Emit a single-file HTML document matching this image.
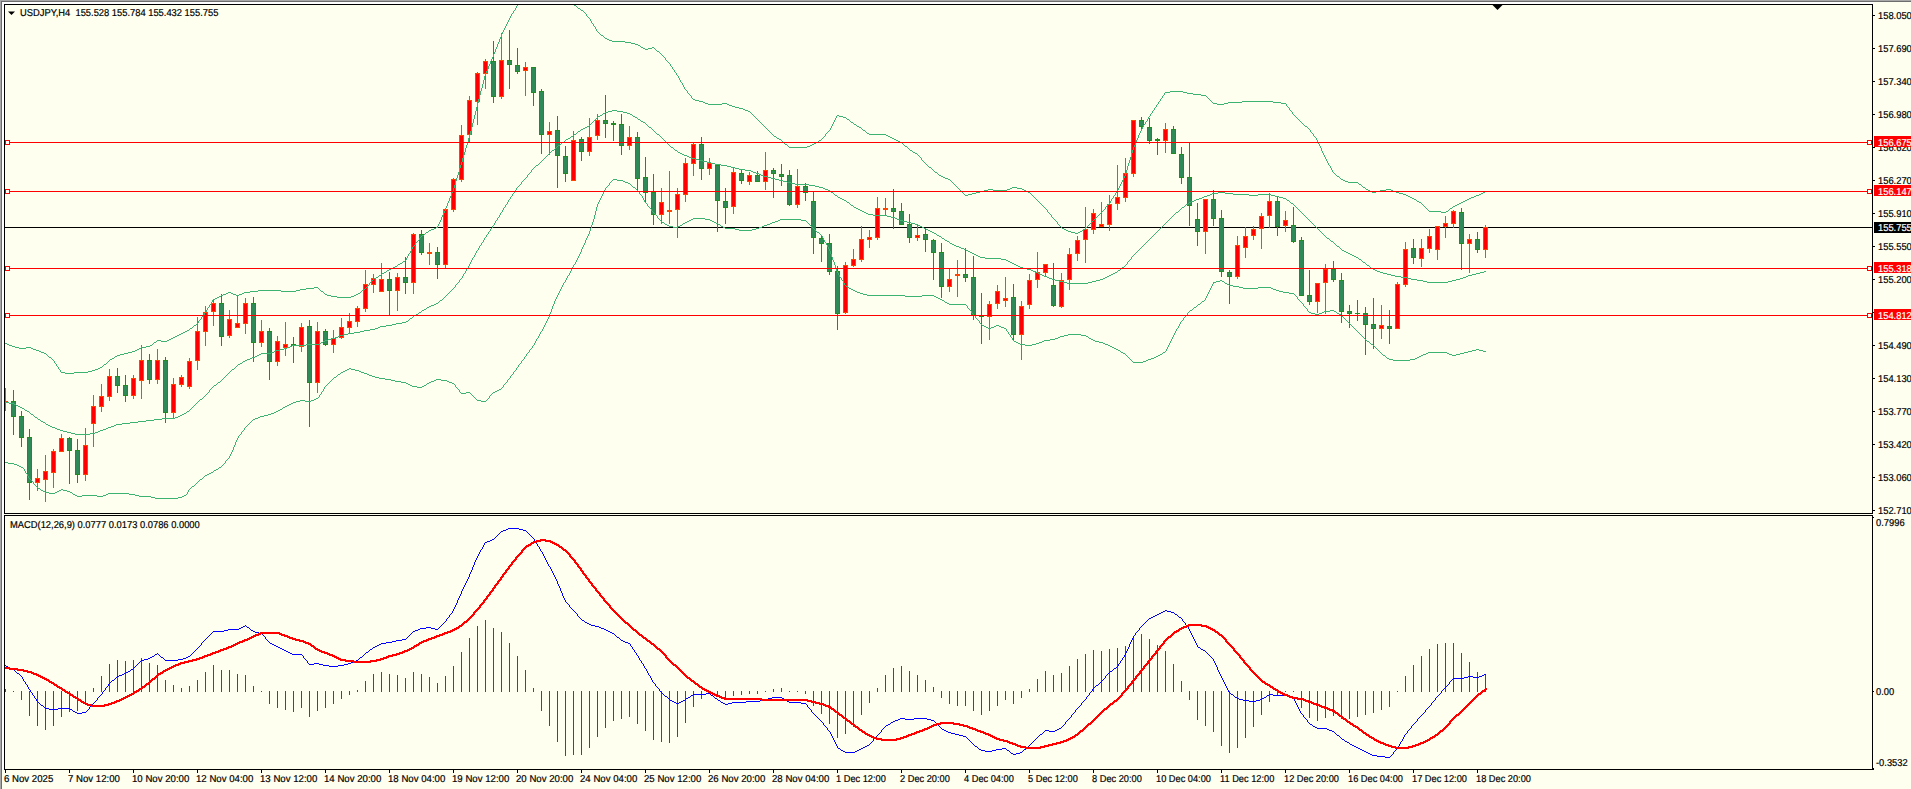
<!DOCTYPE html>
<html lang="en"><head><meta charset="utf-8"><title>USDJPY,H4</title>
<style>
html,body{margin:0;padding:0;background:#fffff0;overflow:hidden}
svg{display:block}
text{font-family:"Liberation Sans",sans-serif;font-size:10px;text-rendering:geometricPrecision;fill:#000;stroke:#000;stroke-width:0.2px;white-space:pre}
.w{fill:#fff;stroke:#fff}
</style></head><body>
<svg width="1911" height="789" viewBox="0 0 1911 789" shape-rendering="crispEdges">
<defs><clipPath id="cm"><rect x="5" y="5" width="1867" height="508"/></clipPath><clipPath id="cs"><rect x="5" y="516" width="1867" height="253"/></clipPath></defs>
<rect x="0" y="0" width="1911" height="789" fill="#fffff0"/>
<g id="frame"><rect x="2" y="2" width="1871" height="2" fill="#ffffff"/><rect x="2" y="2" width="2" height="768" fill="#ffffff"/><rect x="0" y="0" width="1911" height="1" fill="#a8a8a8"/><rect x="0" y="1" width="1911" height="1" fill="#6d6d6d"/><rect x="0" y="0" width="1" height="789" fill="#a8a8a8"/><rect x="1" y="1" width="1" height="788" fill="#6d6d6d"/><rect x="4" y="4" width="1869" height="1" fill="#000"/><rect x="4" y="4" width="1" height="510" fill="#000"/><rect x="4" y="515" width="1" height="255" fill="#000"/><rect x="4" y="513" width="1869" height="1" fill="#000"/><rect x="4" y="515" width="1869" height="1" fill="#000"/><rect x="4" y="769" width="1870" height="1" fill="#000"/><rect x="1872" y="4" width="1" height="510" fill="#000"/><rect x="1872" y="515" width="1" height="255" fill="#000"/></g>
<g id="ticks" fill="#000"><rect x="1873" y="15" width="2" height="1"/><rect x="1873" y="48" width="2" height="1"/><rect x="1873" y="81" width="2" height="1"/><rect x="1873" y="114" width="2" height="1"/><rect x="1873" y="147" width="2" height="1"/><rect x="1873" y="180" width="2" height="1"/><rect x="1873" y="213" width="2" height="1"/><rect x="1873" y="246" width="2" height="1"/><rect x="1873" y="279" width="2" height="1"/><rect x="1873" y="312" width="2" height="1"/><rect x="1873" y="345" width="2" height="1"/><rect x="1873" y="378" width="2" height="1"/><rect x="1873" y="411" width="2" height="1"/><rect x="1873" y="444" width="2" height="1"/><rect x="1873" y="477" width="2" height="1"/><rect x="1873" y="510" width="2" height="1"/><rect x="1873" y="517" width="1" height="1"/><rect x="1873" y="691" width="1" height="1"/><rect x="1873" y="768" width="1" height="1"/><rect x="5" y="770" width="1" height="3"/><rect x="69" y="770" width="1" height="3"/><rect x="133" y="770" width="1" height="3"/><rect x="197" y="770" width="1" height="3"/><rect x="261" y="770" width="1" height="3"/><rect x="325" y="770" width="1" height="3"/><rect x="389" y="770" width="1" height="3"/><rect x="453" y="770" width="1" height="3"/><rect x="517" y="770" width="1" height="3"/><rect x="581" y="770" width="1" height="3"/><rect x="645" y="770" width="1" height="3"/><rect x="709" y="770" width="1" height="3"/><rect x="773" y="770" width="1" height="3"/><rect x="837" y="770" width="1" height="3"/><rect x="901" y="770" width="1" height="3"/><rect x="965" y="770" width="1" height="3"/><rect x="1029" y="770" width="1" height="3"/><rect x="1093" y="770" width="1" height="3"/><rect x="1157" y="770" width="1" height="3"/><rect x="1221" y="770" width="1" height="3"/><rect x="1285" y="770" width="1" height="3"/><rect x="1349" y="770" width="1" height="3"/><rect x="1413" y="770" width="1" height="3"/><rect x="1477" y="770" width="1" height="3"/></g>
<rect x="5" y="227" width="1867" height="1" fill="#000"/>
<g id="candles" clip-path="url(#cm)"><rect x="5" y="388" width="1" height="23" fill="#ff4500"/><rect x="3" y="401" width="5" height="2" fill="#ff4500"/><rect x="13" y="390" width="1" height="45" fill="#228b22"/><rect x="11" y="401" width="5" height="16" fill="#228b22"/><rect x="12" y="402" width="3" height="14" fill="#2e8b57"/><rect x="21" y="411" width="1" height="36" fill="#228b22"/><rect x="19" y="416" width="5" height="22" fill="#228b22"/><rect x="20" y="417" width="3" height="20" fill="#2e8b57"/><rect x="29" y="429" width="1" height="71" fill="#228b22"/><rect x="27" y="437" width="5" height="46" fill="#228b22"/><rect x="28" y="438" width="3" height="44" fill="#2e8b57"/><rect x="37" y="469" width="1" height="22" fill="#ff4500"/><rect x="35" y="478" width="5" height="5" fill="#ff4500"/><rect x="36" y="479" width="3" height="3" fill="#ff0000"/><rect x="45" y="455" width="1" height="47" fill="#ff4500"/><rect x="43" y="471" width="5" height="9" fill="#ff4500"/><rect x="44" y="472" width="3" height="7" fill="#ff0000"/><rect x="53" y="449" width="1" height="39" fill="#ff4500"/><rect x="51" y="451" width="5" height="22" fill="#ff4500"/><rect x="52" y="452" width="3" height="20" fill="#ff0000"/><rect x="61" y="434" width="1" height="18" fill="#ff4500"/><rect x="59" y="438" width="5" height="14" fill="#ff4500"/><rect x="60" y="439" width="3" height="12" fill="#ff0000"/><rect x="69" y="437" width="1" height="47" fill="#228b22"/><rect x="67" y="438" width="5" height="13" fill="#228b22"/><rect x="68" y="439" width="3" height="11" fill="#2e8b57"/><rect x="77" y="439" width="1" height="44" fill="#228b22"/><rect x="75" y="450" width="5" height="25" fill="#228b22"/><rect x="76" y="451" width="3" height="23" fill="#2e8b57"/><rect x="85" y="428" width="1" height="53" fill="#ff4500"/><rect x="83" y="445" width="5" height="30" fill="#ff4500"/><rect x="84" y="446" width="3" height="28" fill="#ff0000"/><rect x="93" y="395" width="1" height="52" fill="#ff4500"/><rect x="91" y="406" width="5" height="18" fill="#ff4500"/><rect x="92" y="407" width="3" height="16" fill="#ff0000"/><rect x="101" y="384" width="1" height="28" fill="#ff4500"/><rect x="99" y="396" width="5" height="11" fill="#ff4500"/><rect x="100" y="397" width="3" height="9" fill="#ff0000"/><rect x="109" y="369" width="1" height="32" fill="#ff4500"/><rect x="107" y="376" width="5" height="21" fill="#ff4500"/><rect x="108" y="377" width="3" height="19" fill="#ff0000"/><rect x="117" y="368" width="1" height="25" fill="#228b22"/><rect x="115" y="376" width="5" height="10" fill="#228b22"/><rect x="116" y="377" width="3" height="8" fill="#2e8b57"/><rect x="125" y="375" width="1" height="27" fill="#228b22"/><rect x="123" y="385" width="5" height="11" fill="#228b22"/><rect x="124" y="386" width="3" height="9" fill="#2e8b57"/><rect x="133" y="375" width="1" height="24" fill="#ff4500"/><rect x="131" y="378" width="5" height="18" fill="#ff4500"/><rect x="132" y="379" width="3" height="16" fill="#ff0000"/><rect x="141" y="345" width="1" height="54" fill="#ff4500"/><rect x="139" y="360" width="5" height="21" fill="#ff4500"/><rect x="140" y="361" width="3" height="19" fill="#ff0000"/><rect x="149" y="354" width="1" height="30" fill="#228b22"/><rect x="147" y="360" width="5" height="20" fill="#228b22"/><rect x="148" y="361" width="3" height="18" fill="#2e8b57"/><rect x="157" y="349" width="1" height="35" fill="#ff4500"/><rect x="155" y="360" width="5" height="20" fill="#ff4500"/><rect x="156" y="361" width="3" height="18" fill="#ff0000"/><rect x="165" y="357" width="1" height="66" fill="#228b22"/><rect x="163" y="360" width="5" height="53" fill="#228b22"/><rect x="164" y="361" width="3" height="51" fill="#2e8b57"/><rect x="173" y="378" width="1" height="41" fill="#ff4500"/><rect x="171" y="384" width="5" height="29" fill="#ff4500"/><rect x="172" y="385" width="3" height="27" fill="#ff0000"/><rect x="181" y="375" width="1" height="12" fill="#ff4500"/><rect x="179" y="377" width="5" height="8" fill="#ff4500"/><rect x="180" y="378" width="3" height="6" fill="#ff0000"/><rect x="189" y="358" width="1" height="31" fill="#ff4500"/><rect x="187" y="361" width="5" height="26" fill="#ff4500"/><rect x="188" y="362" width="3" height="24" fill="#ff0000"/><rect x="197" y="317" width="1" height="53" fill="#ff4500"/><rect x="195" y="331" width="5" height="30" fill="#ff4500"/><rect x="196" y="332" width="3" height="28" fill="#ff0000"/><rect x="205" y="306" width="1" height="40" fill="#ff4500"/><rect x="203" y="312" width="5" height="20" fill="#ff4500"/><rect x="204" y="313" width="3" height="18" fill="#ff0000"/><rect x="213" y="299" width="1" height="27" fill="#ff4500"/><rect x="211" y="303" width="5" height="9" fill="#ff4500"/><rect x="212" y="304" width="3" height="7" fill="#ff0000"/><rect x="221" y="294" width="1" height="52" fill="#228b22"/><rect x="219" y="303" width="5" height="34" fill="#228b22"/><rect x="220" y="304" width="3" height="32" fill="#2e8b57"/><rect x="229" y="310" width="1" height="28" fill="#ff4500"/><rect x="227" y="319" width="5" height="17" fill="#ff4500"/><rect x="228" y="320" width="3" height="15" fill="#ff0000"/><rect x="237" y="296" width="1" height="32" fill="#ff4500"/><rect x="235" y="323" width="5" height="5" fill="#ff4500"/><rect x="236" y="324" width="3" height="3" fill="#ff0000"/><rect x="245" y="298" width="1" height="36" fill="#ff4500"/><rect x="243" y="303" width="5" height="21" fill="#ff4500"/><rect x="244" y="304" width="3" height="19" fill="#ff0000"/><rect x="253" y="297" width="1" height="65" fill="#228b22"/><rect x="251" y="303" width="5" height="40" fill="#228b22"/><rect x="252" y="304" width="3" height="38" fill="#2e8b57"/><rect x="261" y="320" width="1" height="27" fill="#ff4500"/><rect x="259" y="331" width="5" height="12" fill="#ff4500"/><rect x="260" y="332" width="3" height="10" fill="#ff0000"/><rect x="269" y="328" width="1" height="52" fill="#228b22"/><rect x="267" y="331" width="5" height="31" fill="#228b22"/><rect x="268" y="332" width="3" height="29" fill="#2e8b57"/><rect x="277" y="336" width="1" height="30" fill="#ff4500"/><rect x="275" y="341" width="5" height="21" fill="#ff4500"/><rect x="276" y="342" width="3" height="19" fill="#ff0000"/><rect x="285" y="322" width="1" height="34" fill="#ff4500"/><rect x="283" y="344" width="5" height="4" fill="#ff4500"/><rect x="284" y="345" width="3" height="2" fill="#ff0000"/><rect x="293" y="337" width="1" height="26" fill="#228b22"/><rect x="291" y="344" width="5" height="2" fill="#228b22"/><rect x="301" y="323" width="1" height="29" fill="#ff4500"/><rect x="299" y="327" width="5" height="20" fill="#ff4500"/><rect x="300" y="328" width="3" height="18" fill="#ff0000"/><rect x="309" y="320" width="1" height="107" fill="#228b22"/><rect x="307" y="326" width="5" height="57" fill="#228b22"/><rect x="308" y="327" width="3" height="55" fill="#2e8b57"/><rect x="317" y="322" width="1" height="71" fill="#ff4500"/><rect x="315" y="331" width="5" height="52" fill="#ff4500"/><rect x="316" y="332" width="3" height="50" fill="#ff0000"/><rect x="325" y="329" width="1" height="17" fill="#228b22"/><rect x="323" y="331" width="5" height="14" fill="#228b22"/><rect x="324" y="332" width="3" height="12" fill="#2e8b57"/><rect x="333" y="330" width="1" height="23" fill="#ff4500"/><rect x="331" y="338" width="5" height="7" fill="#ff4500"/><rect x="332" y="339" width="3" height="5" fill="#ff0000"/><rect x="341" y="318" width="1" height="21" fill="#ff4500"/><rect x="339" y="327" width="5" height="11" fill="#ff4500"/><rect x="340" y="328" width="3" height="9" fill="#ff0000"/><rect x="349" y="313" width="1" height="20" fill="#ff4500"/><rect x="347" y="321" width="5" height="7" fill="#ff4500"/><rect x="348" y="322" width="3" height="5" fill="#ff0000"/><rect x="357" y="306" width="1" height="21" fill="#ff4500"/><rect x="355" y="308" width="5" height="14" fill="#ff4500"/><rect x="356" y="309" width="3" height="12" fill="#ff0000"/><rect x="365" y="270" width="1" height="42" fill="#ff4500"/><rect x="363" y="284" width="5" height="25" fill="#ff4500"/><rect x="364" y="285" width="3" height="23" fill="#ff0000"/><rect x="373" y="274" width="1" height="19" fill="#ff4500"/><rect x="371" y="278" width="5" height="7" fill="#ff4500"/><rect x="372" y="279" width="3" height="5" fill="#ff0000"/><rect x="381" y="263" width="1" height="29" fill="#ff4500"/><rect x="379" y="279" width="5" height="13" fill="#ff4500"/><rect x="380" y="280" width="3" height="11" fill="#ff0000"/><rect x="389" y="272" width="1" height="43" fill="#228b22"/><rect x="387" y="279" width="5" height="12" fill="#228b22"/><rect x="388" y="280" width="3" height="10" fill="#2e8b57"/><rect x="397" y="273" width="1" height="38" fill="#ff4500"/><rect x="395" y="277" width="5" height="14" fill="#ff4500"/><rect x="396" y="278" width="3" height="12" fill="#ff0000"/><rect x="405" y="257" width="1" height="37" fill="#228b22"/><rect x="403" y="277" width="5" height="6" fill="#228b22"/><rect x="404" y="278" width="3" height="4" fill="#2e8b57"/><rect x="413" y="233" width="1" height="61" fill="#ff4500"/><rect x="411" y="234" width="5" height="49" fill="#ff4500"/><rect x="412" y="235" width="3" height="47" fill="#ff0000"/><rect x="421" y="230" width="1" height="25" fill="#228b22"/><rect x="419" y="234" width="5" height="19" fill="#228b22"/><rect x="420" y="235" width="3" height="17" fill="#2e8b57"/><rect x="429" y="243" width="1" height="22" fill="#ff4500"/><rect x="427" y="252" width="5" height="2" fill="#ff4500"/><rect x="437" y="247" width="1" height="32" fill="#228b22"/><rect x="435" y="252" width="5" height="13" fill="#228b22"/><rect x="436" y="253" width="3" height="11" fill="#2e8b57"/><rect x="445" y="209" width="1" height="59" fill="#ff4500"/><rect x="443" y="209" width="5" height="56" fill="#ff4500"/><rect x="444" y="210" width="3" height="54" fill="#ff0000"/><rect x="453" y="178" width="1" height="34" fill="#ff4500"/><rect x="451" y="179" width="5" height="31" fill="#ff4500"/><rect x="452" y="180" width="3" height="29" fill="#ff0000"/><rect x="461" y="125" width="1" height="57" fill="#ff4500"/><rect x="459" y="135" width="5" height="45" fill="#ff4500"/><rect x="460" y="136" width="3" height="43" fill="#ff0000"/><rect x="469" y="96" width="1" height="46" fill="#ff4500"/><rect x="467" y="100" width="5" height="35" fill="#ff4500"/><rect x="468" y="101" width="3" height="33" fill="#ff0000"/><rect x="477" y="72" width="1" height="53" fill="#ff4500"/><rect x="475" y="73" width="5" height="29" fill="#ff4500"/><rect x="476" y="74" width="3" height="27" fill="#ff0000"/><rect x="485" y="59" width="1" height="30" fill="#ff4500"/><rect x="483" y="61" width="5" height="13" fill="#ff4500"/><rect x="484" y="62" width="3" height="11" fill="#ff0000"/><rect x="493" y="41" width="1" height="62" fill="#228b22"/><rect x="491" y="61" width="5" height="36" fill="#228b22"/><rect x="492" y="62" width="3" height="34" fill="#2e8b57"/><rect x="501" y="33" width="1" height="66" fill="#ff4500"/><rect x="499" y="60" width="5" height="37" fill="#ff4500"/><rect x="500" y="61" width="3" height="35" fill="#ff0000"/><rect x="509" y="30" width="1" height="59" fill="#228b22"/><rect x="507" y="60" width="5" height="5" fill="#228b22"/><rect x="508" y="61" width="3" height="3" fill="#2e8b57"/><rect x="517" y="48" width="1" height="26" fill="#228b22"/><rect x="515" y="65" width="5" height="7" fill="#228b22"/><rect x="516" y="66" width="3" height="5" fill="#2e8b57"/><rect x="525" y="62" width="1" height="34" fill="#ff4500"/><rect x="523" y="67" width="5" height="4" fill="#ff4500"/><rect x="524" y="68" width="3" height="2" fill="#ff0000"/><rect x="533" y="67" width="1" height="39" fill="#228b22"/><rect x="531" y="67" width="5" height="26" fill="#228b22"/><rect x="532" y="68" width="3" height="24" fill="#2e8b57"/><rect x="541" y="89" width="1" height="65" fill="#228b22"/><rect x="539" y="91" width="5" height="44" fill="#228b22"/><rect x="540" y="92" width="3" height="42" fill="#2e8b57"/><rect x="549" y="122" width="1" height="33" fill="#ff4500"/><rect x="547" y="131" width="5" height="4" fill="#ff4500"/><rect x="548" y="132" width="3" height="2" fill="#ff0000"/><rect x="557" y="116" width="1" height="72" fill="#228b22"/><rect x="555" y="130" width="5" height="26" fill="#228b22"/><rect x="556" y="131" width="3" height="24" fill="#2e8b57"/><rect x="565" y="146" width="1" height="36" fill="#228b22"/><rect x="563" y="156" width="5" height="18" fill="#228b22"/><rect x="564" y="157" width="3" height="16" fill="#2e8b57"/><rect x="573" y="131" width="1" height="50" fill="#ff4500"/><rect x="571" y="140" width="5" height="41" fill="#ff4500"/><rect x="572" y="141" width="3" height="39" fill="#ff0000"/><rect x="581" y="137" width="1" height="24" fill="#228b22"/><rect x="579" y="139" width="5" height="13" fill="#228b22"/><rect x="580" y="140" width="3" height="11" fill="#2e8b57"/><rect x="589" y="118" width="1" height="38" fill="#ff4500"/><rect x="587" y="137" width="5" height="15" fill="#ff4500"/><rect x="588" y="138" width="3" height="13" fill="#ff0000"/><rect x="597" y="114" width="1" height="26" fill="#ff4500"/><rect x="595" y="120" width="5" height="16" fill="#ff4500"/><rect x="596" y="121" width="3" height="14" fill="#ff0000"/><rect x="605" y="95" width="1" height="43" fill="#228b22"/><rect x="603" y="120" width="5" height="4" fill="#228b22"/><rect x="604" y="121" width="3" height="2" fill="#2e8b57"/><rect x="613" y="121" width="1" height="20" fill="#228b22"/><rect x="611" y="123" width="5" height="2" fill="#228b22"/><rect x="621" y="114" width="1" height="41" fill="#228b22"/><rect x="619" y="124" width="5" height="22" fill="#228b22"/><rect x="620" y="125" width="3" height="20" fill="#2e8b57"/><rect x="629" y="126" width="1" height="24" fill="#ff4500"/><rect x="627" y="137" width="5" height="9" fill="#ff4500"/><rect x="628" y="138" width="3" height="7" fill="#ff0000"/><rect x="637" y="132" width="1" height="60" fill="#228b22"/><rect x="635" y="137" width="5" height="42" fill="#228b22"/><rect x="636" y="138" width="3" height="40" fill="#2e8b57"/><rect x="645" y="157" width="1" height="46" fill="#228b22"/><rect x="643" y="177" width="5" height="16" fill="#228b22"/><rect x="644" y="178" width="3" height="14" fill="#2e8b57"/><rect x="653" y="174" width="1" height="51" fill="#228b22"/><rect x="651" y="192" width="5" height="23" fill="#228b22"/><rect x="652" y="193" width="3" height="21" fill="#2e8b57"/><rect x="661" y="188" width="1" height="36" fill="#ff4500"/><rect x="659" y="202" width="5" height="13" fill="#ff4500"/><rect x="660" y="203" width="3" height="11" fill="#ff0000"/><rect x="669" y="171" width="1" height="53" fill="#ff4500"/><rect x="667" y="210" width="5" height="2" fill="#ff4500"/><rect x="677" y="188" width="1" height="50" fill="#ff4500"/><rect x="675" y="194" width="5" height="16" fill="#ff4500"/><rect x="676" y="195" width="3" height="14" fill="#ff0000"/><rect x="685" y="158" width="1" height="44" fill="#ff4500"/><rect x="683" y="163" width="5" height="32" fill="#ff4500"/><rect x="684" y="164" width="3" height="30" fill="#ff0000"/><rect x="693" y="142" width="1" height="34" fill="#ff4500"/><rect x="691" y="144" width="5" height="20" fill="#ff4500"/><rect x="692" y="145" width="3" height="18" fill="#ff0000"/><rect x="701" y="137" width="1" height="43" fill="#228b22"/><rect x="699" y="144" width="5" height="25" fill="#228b22"/><rect x="700" y="145" width="3" height="23" fill="#2e8b57"/><rect x="709" y="158" width="1" height="17" fill="#ff4500"/><rect x="707" y="163" width="5" height="6" fill="#ff4500"/><rect x="708" y="164" width="3" height="4" fill="#ff0000"/><rect x="717" y="164" width="1" height="68" fill="#228b22"/><rect x="715" y="165" width="5" height="36" fill="#228b22"/><rect x="716" y="166" width="3" height="34" fill="#2e8b57"/><rect x="725" y="188" width="1" height="36" fill="#228b22"/><rect x="723" y="201" width="5" height="7" fill="#228b22"/><rect x="724" y="202" width="3" height="5" fill="#2e8b57"/><rect x="733" y="168" width="1" height="46" fill="#ff4500"/><rect x="731" y="172" width="5" height="35" fill="#ff4500"/><rect x="732" y="173" width="3" height="33" fill="#ff0000"/><rect x="741" y="169" width="1" height="15" fill="#228b22"/><rect x="739" y="173" width="5" height="8" fill="#228b22"/><rect x="740" y="174" width="3" height="6" fill="#2e8b57"/><rect x="749" y="172" width="1" height="13" fill="#ff4500"/><rect x="747" y="175" width="5" height="7" fill="#ff4500"/><rect x="748" y="176" width="3" height="5" fill="#ff0000"/><rect x="757" y="171" width="1" height="11" fill="#228b22"/><rect x="755" y="175" width="5" height="7" fill="#228b22"/><rect x="756" y="176" width="3" height="5" fill="#2e8b57"/><rect x="765" y="152" width="1" height="38" fill="#ff4500"/><rect x="763" y="170" width="5" height="12" fill="#ff4500"/><rect x="764" y="171" width="3" height="10" fill="#ff0000"/><rect x="773" y="168" width="1" height="30" fill="#228b22"/><rect x="771" y="170" width="5" height="4" fill="#228b22"/><rect x="772" y="171" width="3" height="2" fill="#2e8b57"/><rect x="781" y="164" width="1" height="22" fill="#228b22"/><rect x="779" y="174" width="5" height="3" fill="#228b22"/><rect x="780" y="175" width="3" height="1" fill="#2e8b57"/><rect x="789" y="170" width="1" height="36" fill="#228b22"/><rect x="787" y="175" width="5" height="30" fill="#228b22"/><rect x="788" y="176" width="3" height="28" fill="#2e8b57"/><rect x="797" y="169" width="1" height="39" fill="#ff4500"/><rect x="795" y="186" width="5" height="19" fill="#ff4500"/><rect x="796" y="187" width="3" height="17" fill="#ff0000"/><rect x="805" y="183" width="1" height="18" fill="#228b22"/><rect x="803" y="186" width="5" height="7" fill="#228b22"/><rect x="804" y="187" width="3" height="5" fill="#2e8b57"/><rect x="813" y="192" width="1" height="62" fill="#228b22"/><rect x="811" y="201" width="5" height="37" fill="#228b22"/><rect x="812" y="202" width="3" height="35" fill="#2e8b57"/><rect x="821" y="236" width="1" height="26" fill="#228b22"/><rect x="819" y="238" width="5" height="6" fill="#228b22"/><rect x="820" y="239" width="3" height="4" fill="#2e8b57"/><rect x="829" y="234" width="1" height="41" fill="#228b22"/><rect x="827" y="243" width="5" height="29" fill="#228b22"/><rect x="828" y="244" width="3" height="27" fill="#2e8b57"/><rect x="837" y="266" width="1" height="64" fill="#228b22"/><rect x="835" y="271" width="5" height="43" fill="#228b22"/><rect x="836" y="272" width="3" height="41" fill="#2e8b57"/><rect x="845" y="262" width="1" height="52" fill="#ff4500"/><rect x="843" y="265" width="5" height="48" fill="#ff4500"/><rect x="844" y="266" width="3" height="46" fill="#ff0000"/><rect x="853" y="249" width="1" height="18" fill="#ff4500"/><rect x="851" y="259" width="5" height="7" fill="#ff4500"/><rect x="852" y="260" width="3" height="5" fill="#ff0000"/><rect x="861" y="226" width="1" height="36" fill="#ff4500"/><rect x="859" y="239" width="5" height="21" fill="#ff4500"/><rect x="860" y="240" width="3" height="19" fill="#ff0000"/><rect x="869" y="230" width="1" height="18" fill="#ff4500"/><rect x="867" y="237" width="5" height="3" fill="#ff4500"/><rect x="868" y="238" width="3" height="1" fill="#ff0000"/><rect x="877" y="197" width="1" height="43" fill="#ff4500"/><rect x="875" y="208" width="5" height="30" fill="#ff4500"/><rect x="876" y="209" width="3" height="28" fill="#ff0000"/><rect x="885" y="198" width="1" height="17" fill="#ff4500"/><rect x="883" y="208" width="5" height="2" fill="#ff4500"/><rect x="893" y="189" width="1" height="40" fill="#228b22"/><rect x="891" y="208" width="5" height="4" fill="#228b22"/><rect x="892" y="209" width="3" height="2" fill="#2e8b57"/><rect x="901" y="203" width="1" height="22" fill="#228b22"/><rect x="899" y="211" width="5" height="14" fill="#228b22"/><rect x="900" y="212" width="3" height="12" fill="#2e8b57"/><rect x="909" y="214" width="1" height="29" fill="#228b22"/><rect x="907" y="224" width="5" height="14" fill="#228b22"/><rect x="908" y="225" width="3" height="12" fill="#2e8b57"/><rect x="917" y="225" width="1" height="16" fill="#ff4500"/><rect x="915" y="235" width="5" height="3" fill="#ff4500"/><rect x="916" y="236" width="3" height="1" fill="#ff0000"/><rect x="925" y="228" width="1" height="24" fill="#228b22"/><rect x="923" y="234" width="5" height="6" fill="#228b22"/><rect x="924" y="235" width="3" height="4" fill="#2e8b57"/><rect x="933" y="239" width="1" height="41" fill="#228b22"/><rect x="931" y="240" width="5" height="13" fill="#228b22"/><rect x="932" y="241" width="3" height="11" fill="#2e8b57"/><rect x="941" y="243" width="1" height="55" fill="#228b22"/><rect x="939" y="252" width="5" height="35" fill="#228b22"/><rect x="940" y="253" width="3" height="33" fill="#2e8b57"/><rect x="949" y="269" width="1" height="23" fill="#ff4500"/><rect x="947" y="279" width="5" height="8" fill="#ff4500"/><rect x="948" y="280" width="3" height="6" fill="#ff0000"/><rect x="957" y="260" width="1" height="37" fill="#ff4500"/><rect x="955" y="274" width="5" height="2" fill="#ff4500"/><rect x="965" y="248" width="1" height="34" fill="#228b22"/><rect x="963" y="274" width="5" height="4" fill="#228b22"/><rect x="964" y="275" width="3" height="2" fill="#2e8b57"/><rect x="973" y="256" width="1" height="64" fill="#228b22"/><rect x="971" y="277" width="5" height="38" fill="#228b22"/><rect x="972" y="278" width="3" height="36" fill="#2e8b57"/><rect x="981" y="293" width="1" height="51" fill="#228b22"/><rect x="979" y="316" width="5" height="1" fill="#228b22"/><rect x="989" y="301" width="1" height="39" fill="#ff4500"/><rect x="987" y="304" width="5" height="13" fill="#ff4500"/><rect x="988" y="305" width="3" height="11" fill="#ff0000"/><rect x="997" y="285" width="1" height="24" fill="#ff4500"/><rect x="995" y="291" width="5" height="13" fill="#ff4500"/><rect x="996" y="292" width="3" height="11" fill="#ff0000"/><rect x="1005" y="277" width="1" height="30" fill="#ff4500"/><rect x="1003" y="298" width="5" height="3" fill="#ff4500"/><rect x="1004" y="299" width="3" height="1" fill="#ff0000"/><rect x="1013" y="284" width="1" height="56" fill="#228b22"/><rect x="1011" y="297" width="5" height="38" fill="#228b22"/><rect x="1012" y="298" width="3" height="36" fill="#2e8b57"/><rect x="1021" y="301" width="1" height="59" fill="#ff4500"/><rect x="1019" y="306" width="5" height="29" fill="#ff4500"/><rect x="1020" y="307" width="3" height="27" fill="#ff0000"/><rect x="1029" y="274" width="1" height="35" fill="#ff4500"/><rect x="1027" y="280" width="5" height="25" fill="#ff4500"/><rect x="1028" y="281" width="3" height="23" fill="#ff0000"/><rect x="1037" y="252" width="1" height="36" fill="#ff4500"/><rect x="1035" y="272" width="5" height="8" fill="#ff4500"/><rect x="1036" y="273" width="3" height="6" fill="#ff0000"/><rect x="1045" y="264" width="1" height="12" fill="#ff4500"/><rect x="1043" y="264" width="5" height="9" fill="#ff4500"/><rect x="1044" y="265" width="3" height="7" fill="#ff0000"/><rect x="1053" y="263" width="1" height="44" fill="#228b22"/><rect x="1051" y="285" width="5" height="21" fill="#228b22"/><rect x="1052" y="286" width="3" height="19" fill="#2e8b57"/><rect x="1061" y="273" width="1" height="35" fill="#ff4500"/><rect x="1059" y="280" width="5" height="27" fill="#ff4500"/><rect x="1060" y="281" width="3" height="25" fill="#ff0000"/><rect x="1069" y="248" width="1" height="42" fill="#ff4500"/><rect x="1067" y="254" width="5" height="26" fill="#ff4500"/><rect x="1068" y="255" width="3" height="24" fill="#ff0000"/><rect x="1077" y="236" width="1" height="25" fill="#ff4500"/><rect x="1075" y="240" width="5" height="14" fill="#ff4500"/><rect x="1076" y="241" width="3" height="12" fill="#ff0000"/><rect x="1085" y="207" width="1" height="56" fill="#ff4500"/><rect x="1083" y="229" width="5" height="11" fill="#ff4500"/><rect x="1084" y="230" width="3" height="9" fill="#ff0000"/><rect x="1093" y="209" width="1" height="25" fill="#ff4500"/><rect x="1091" y="213" width="5" height="17" fill="#ff4500"/><rect x="1092" y="214" width="3" height="15" fill="#ff0000"/><rect x="1101" y="202" width="1" height="25" fill="#ff4500"/><rect x="1099" y="224" width="5" height="3" fill="#ff4500"/><rect x="1100" y="225" width="3" height="1" fill="#ff0000"/><rect x="1109" y="195" width="1" height="36" fill="#ff4500"/><rect x="1107" y="204" width="5" height="21" fill="#ff4500"/><rect x="1108" y="205" width="3" height="19" fill="#ff0000"/><rect x="1117" y="165" width="1" height="45" fill="#ff4500"/><rect x="1115" y="197" width="5" height="7" fill="#ff4500"/><rect x="1116" y="198" width="3" height="5" fill="#ff0000"/><rect x="1125" y="158" width="1" height="44" fill="#ff4500"/><rect x="1123" y="173" width="5" height="25" fill="#ff4500"/><rect x="1124" y="174" width="3" height="23" fill="#ff0000"/><rect x="1133" y="120" width="1" height="57" fill="#ff4500"/><rect x="1131" y="120" width="5" height="54" fill="#ff4500"/><rect x="1132" y="121" width="3" height="52" fill="#ff0000"/><rect x="1141" y="117" width="1" height="12" fill="#228b22"/><rect x="1139" y="120" width="5" height="7" fill="#228b22"/><rect x="1140" y="121" width="3" height="5" fill="#2e8b57"/><rect x="1149" y="118" width="1" height="26" fill="#228b22"/><rect x="1147" y="127" width="5" height="14" fill="#228b22"/><rect x="1148" y="128" width="3" height="12" fill="#2e8b57"/><rect x="1157" y="138" width="1" height="17" fill="#228b22"/><rect x="1155" y="139" width="5" height="2" fill="#228b22"/><rect x="1165" y="123" width="1" height="30" fill="#ff4500"/><rect x="1163" y="129" width="5" height="12" fill="#ff4500"/><rect x="1164" y="130" width="3" height="10" fill="#ff0000"/><rect x="1173" y="126" width="1" height="28" fill="#228b22"/><rect x="1171" y="129" width="5" height="25" fill="#228b22"/><rect x="1172" y="130" width="3" height="23" fill="#2e8b57"/><rect x="1181" y="147" width="1" height="37" fill="#228b22"/><rect x="1179" y="154" width="5" height="24" fill="#228b22"/><rect x="1180" y="155" width="3" height="22" fill="#2e8b57"/><rect x="1189" y="143" width="1" height="83" fill="#228b22"/><rect x="1187" y="177" width="5" height="29" fill="#228b22"/><rect x="1188" y="178" width="3" height="27" fill="#2e8b57"/><rect x="1197" y="203" width="1" height="43" fill="#228b22"/><rect x="1195" y="219" width="5" height="13" fill="#228b22"/><rect x="1196" y="220" width="3" height="11" fill="#2e8b57"/><rect x="1205" y="199" width="1" height="55" fill="#ff4500"/><rect x="1203" y="199" width="5" height="33" fill="#ff4500"/><rect x="1204" y="200" width="3" height="31" fill="#ff0000"/><rect x="1213" y="190" width="1" height="36" fill="#228b22"/><rect x="1211" y="199" width="5" height="20" fill="#228b22"/><rect x="1212" y="200" width="3" height="18" fill="#2e8b57"/><rect x="1221" y="210" width="1" height="67" fill="#228b22"/><rect x="1219" y="218" width="5" height="54" fill="#228b22"/><rect x="1220" y="219" width="3" height="52" fill="#2e8b57"/><rect x="1229" y="270" width="1" height="34" fill="#228b22"/><rect x="1227" y="272" width="5" height="5" fill="#228b22"/><rect x="1228" y="273" width="3" height="3" fill="#2e8b57"/><rect x="1237" y="236" width="1" height="43" fill="#ff4500"/><rect x="1235" y="245" width="5" height="32" fill="#ff4500"/><rect x="1236" y="246" width="3" height="30" fill="#ff0000"/><rect x="1245" y="227" width="1" height="31" fill="#ff4500"/><rect x="1243" y="236" width="5" height="12" fill="#ff4500"/><rect x="1244" y="237" width="3" height="10" fill="#ff0000"/><rect x="1253" y="226" width="1" height="14" fill="#ff4500"/><rect x="1251" y="229" width="5" height="7" fill="#ff4500"/><rect x="1252" y="230" width="3" height="5" fill="#ff0000"/><rect x="1261" y="213" width="1" height="36" fill="#ff4500"/><rect x="1259" y="216" width="5" height="13" fill="#ff4500"/><rect x="1260" y="217" width="3" height="11" fill="#ff0000"/><rect x="1269" y="193" width="1" height="35" fill="#ff4500"/><rect x="1267" y="201" width="5" height="15" fill="#ff4500"/><rect x="1268" y="202" width="3" height="13" fill="#ff0000"/><rect x="1277" y="197" width="1" height="39" fill="#228b22"/><rect x="1275" y="201" width="5" height="26" fill="#228b22"/><rect x="1276" y="202" width="3" height="24" fill="#2e8b57"/><rect x="1285" y="211" width="1" height="21" fill="#ff4500"/><rect x="1283" y="220" width="5" height="6" fill="#ff4500"/><rect x="1284" y="221" width="3" height="4" fill="#ff0000"/><rect x="1293" y="207" width="1" height="36" fill="#228b22"/><rect x="1291" y="225" width="5" height="17" fill="#228b22"/><rect x="1292" y="226" width="3" height="15" fill="#2e8b57"/><rect x="1301" y="237" width="1" height="59" fill="#228b22"/><rect x="1299" y="240" width="5" height="56" fill="#228b22"/><rect x="1300" y="241" width="3" height="54" fill="#2e8b57"/><rect x="1309" y="270" width="1" height="35" fill="#228b22"/><rect x="1307" y="295" width="5" height="7" fill="#228b22"/><rect x="1308" y="296" width="3" height="5" fill="#2e8b57"/><rect x="1317" y="283" width="1" height="30" fill="#ff4500"/><rect x="1315" y="283" width="5" height="19" fill="#ff4500"/><rect x="1316" y="284" width="3" height="17" fill="#ff0000"/><rect x="1325" y="264" width="1" height="50" fill="#ff4500"/><rect x="1323" y="269" width="5" height="14" fill="#ff4500"/><rect x="1324" y="270" width="3" height="12" fill="#ff0000"/><rect x="1333" y="261" width="1" height="21" fill="#228b22"/><rect x="1331" y="269" width="5" height="11" fill="#228b22"/><rect x="1332" y="270" width="3" height="9" fill="#2e8b57"/><rect x="1341" y="273" width="1" height="50" fill="#228b22"/><rect x="1339" y="280" width="5" height="32" fill="#228b22"/><rect x="1340" y="281" width="3" height="30" fill="#2e8b57"/><rect x="1349" y="305" width="1" height="23" fill="#228b22"/><rect x="1347" y="311" width="5" height="3" fill="#228b22"/><rect x="1348" y="312" width="3" height="1" fill="#2e8b57"/><rect x="1357" y="300" width="1" height="21" fill="#228b22"/><rect x="1355" y="313" width="5" height="1" fill="#228b22"/><rect x="1365" y="307" width="1" height="48" fill="#228b22"/><rect x="1363" y="313" width="5" height="12" fill="#228b22"/><rect x="1364" y="314" width="3" height="10" fill="#2e8b57"/><rect x="1373" y="298" width="1" height="51" fill="#228b22"/><rect x="1371" y="324" width="5" height="5" fill="#228b22"/><rect x="1372" y="325" width="3" height="3" fill="#2e8b57"/><rect x="1381" y="305" width="1" height="34" fill="#ff4500"/><rect x="1379" y="325" width="5" height="4" fill="#ff4500"/><rect x="1380" y="326" width="3" height="2" fill="#ff0000"/><rect x="1389" y="310" width="1" height="34" fill="#228b22"/><rect x="1387" y="326" width="5" height="3" fill="#228b22"/><rect x="1388" y="327" width="3" height="1" fill="#2e8b57"/><rect x="1397" y="282" width="1" height="47" fill="#ff4500"/><rect x="1395" y="284" width="5" height="45" fill="#ff4500"/><rect x="1396" y="285" width="3" height="43" fill="#ff0000"/><rect x="1405" y="242" width="1" height="45" fill="#ff4500"/><rect x="1403" y="249" width="5" height="36" fill="#ff4500"/><rect x="1404" y="250" width="3" height="34" fill="#ff0000"/><rect x="1413" y="239" width="1" height="25" fill="#228b22"/><rect x="1411" y="248" width="5" height="10" fill="#228b22"/><rect x="1412" y="249" width="3" height="8" fill="#2e8b57"/><rect x="1421" y="239" width="1" height="28" fill="#ff4500"/><rect x="1419" y="248" width="5" height="11" fill="#ff4500"/><rect x="1420" y="249" width="3" height="9" fill="#ff0000"/><rect x="1429" y="229" width="1" height="24" fill="#ff4500"/><rect x="1427" y="236" width="5" height="13" fill="#ff4500"/><rect x="1428" y="237" width="3" height="11" fill="#ff0000"/><rect x="1437" y="226" width="1" height="34" fill="#ff4500"/><rect x="1435" y="226" width="5" height="24" fill="#ff4500"/><rect x="1436" y="227" width="3" height="22" fill="#ff0000"/><rect x="1445" y="216" width="1" height="22" fill="#ff4500"/><rect x="1443" y="223" width="5" height="4" fill="#ff4500"/><rect x="1444" y="224" width="3" height="2" fill="#ff0000"/><rect x="1453" y="210" width="1" height="18" fill="#ff4500"/><rect x="1451" y="211" width="5" height="13" fill="#ff4500"/><rect x="1452" y="212" width="3" height="11" fill="#ff0000"/><rect x="1461" y="208" width="1" height="62" fill="#228b22"/><rect x="1459" y="212" width="5" height="32" fill="#228b22"/><rect x="1460" y="213" width="3" height="30" fill="#2e8b57"/><rect x="1469" y="234" width="1" height="39" fill="#ff4500"/><rect x="1467" y="239" width="5" height="5" fill="#ff4500"/><rect x="1468" y="240" width="3" height="3" fill="#ff0000"/><rect x="1477" y="232" width="1" height="21" fill="#228b22"/><rect x="1475" y="239" width="5" height="11" fill="#228b22"/><rect x="1476" y="240" width="3" height="9" fill="#2e8b57"/><rect x="1485" y="225" width="1" height="33" fill="#ff4500"/><rect x="1483" y="227" width="5" height="23" fill="#ff4500"/><rect x="1484" y="228" width="3" height="21" fill="#ff0000"/></g>
<g id="bands"><path fill="#3cb371" d="M5 343h2v1h-2zM7 344h2v1h-2zM9 345h3v1h-3zM12 346h3v1h-3zM15 347h4v1h-4zM19 348h7v1h-7zM26 347h5v1h-5zM31 348h2v1h-2zM33 349h3v1h-3zM36 350h3v1h-3zM39 351h2v1h-2zM41 352h3v1h-3zM44 353h2v1h-2zM46 354h1v1h-1zM47 355h1v1h-1zM48 356h1v1h-1zM49 357h2v1h-2zM51 358h1v1h-1zM52 359h1v1h-1zM53 360h1v1h-1zM54 361h1v2h-1zM55 363h1v1h-1zM56 364h1v2h-1zM57 366h1v1h-1zM58 367h1v2h-1zM59 369h1v1h-1zM60 370h1v2h-1zM61 372h4v1h-4zM65 373h9v1h-9zM74 372h14v1h-14zM88 371h4v1h-4zM92 370h3v1h-3zM95 369h3v1h-3zM98 368h2v1h-2zM100 367h2v1h-2zM102 366h1v1h-1zM103 365h1v1h-1zM104 364h2v1h-2zM106 363h1v1h-1zM107 362h1v1h-1zM108 361h1v1h-1zM109 360h1v1h-1zM110 359h2v1h-2zM112 358h2v1h-2zM114 357h1v1h-1zM115 356h2v1h-2zM117 355h3v1h-3zM120 354h4v1h-4zM124 353h4v1h-4zM128 352h4v1h-4zM132 351h3v1h-3zM135 350h2v1h-2zM137 349h2v1h-2zM139 348h2v1h-2zM141 347h5v1h-5zM146 346h4v1h-4zM150 345h2v1h-2zM152 344h1v1h-1zM153 343h1v1h-1zM154 342h2v1h-2zM156 341h1v1h-1zM157 340h4v1h-4zM161 341h6v1h-6zM167 340h2v1h-2zM169 339h2v1h-2zM171 338h2v1h-2zM173 337h2v1h-2zM175 336h2v1h-2zM177 335h2v1h-2zM179 334h2v1h-2zM181 333h2v1h-2zM183 332h2v1h-2zM185 331h2v1h-2zM187 330h2v1h-2zM189 329h1v1h-1zM190 328h2v1h-2zM192 327h1v1h-1zM193 326h1v1h-1zM194 325h2v1h-2zM196 324h1v1h-1zM197 323h1v1h-1zM198 321h1v2h-1zM199 320h1v1h-1zM200 319h1v1h-1zM201 317h1v2h-1zM202 316h1v1h-1zM203 315h1v1h-1zM204 313h1v2h-1zM205 312h1v1h-1zM206 310h1v2h-1zM207 308h1v2h-1zM208 307h1v1h-1zM209 305h1v2h-1zM210 304h1v1h-1zM211 302h1v2h-1zM212 300h1v2h-1zM213 299h2v1h-2zM215 298h2v1h-2zM217 297h2v1h-2zM219 296h2v1h-2zM221 295h2v1h-2zM223 294h3v1h-3zM226 293h2v1h-2zM228 292h3v1h-3zM231 293h2v1h-2zM233 294h3v1h-3zM236 295h3v1h-3zM239 294h3v1h-3zM242 293h2v1h-2zM244 292h6v1h-6zM250 291h8v1h-8zM258 290h23v1h-23zM281 291h15v1h-15zM296 290h4v1h-4zM300 289h6v1h-6zM306 288h8v1h-8zM314 287h4v1h-4zM318 288h1v1h-1zM319 289h1v1h-1zM320 290h1v1h-1zM321 291h2v1h-2zM323 292h1v1h-1zM324 293h1v1h-1zM325 294h2v1h-2zM327 295h4v1h-4zM331 296h6v1h-6zM337 297h14v1h-14zM351 296h3v1h-3zM354 295h2v1h-2zM356 294h2v1h-2zM358 293h2v1h-2zM360 292h1v1h-1zM361 291h1v1h-1zM362 290h2v1h-2zM364 289h1v1h-1zM365 288h1v1h-1zM366 287h1v1h-1zM367 286h1v1h-1zM368 285h1v1h-1zM369 283h1v2h-1zM370 282h1v1h-1zM371 281h1v1h-1zM372 280h1v1h-1zM373 279h1v1h-1zM374 278h2v1h-2zM376 277h2v1h-2zM378 276h1v1h-1zM379 275h2v1h-2zM381 274h1v1h-1zM382 273h2v1h-2zM384 272h2v1h-2zM386 271h1v1h-1zM387 270h2v1h-2zM389 269h2v1h-2zM391 268h2v1h-2zM393 267h2v1h-2zM395 266h2v1h-2zM397 265h1v1h-1zM398 264h2v1h-2zM400 263h2v1h-2zM402 262h1v1h-1zM403 261h2v1h-2zM405 260h1v1h-1zM406 258h1v2h-1zM407 256h1v2h-1zM408 254h1v2h-1zM409 253h1v1h-1zM410 251h1v2h-1zM411 249h1v2h-1zM412 247h1v2h-1zM413 246h1v1h-1zM414 245h1v1h-1zM415 243h1v2h-1zM416 242h1v1h-1zM417 241h1v1h-1zM418 240h1v1h-1zM419 238h1v2h-1zM420 237h1v1h-1zM421 236h1v1h-1zM422 235h2v1h-2zM424 234h1v1h-1zM425 233h1v1h-1zM426 232h2v1h-2zM428 231h1v1h-1zM429 230h2v1h-2zM431 229h3v1h-3zM434 228h2v1h-2zM436 227h2v1h-2zM437 226h1v1h-1zM438 224h1v2h-1zM439 222h1v2h-1zM440 220h1v2h-1zM441 217h1v3h-1zM442 215h1v2h-1zM443 213h1v2h-1zM444 211h1v2h-1zM445 208h1v3h-1zM446 206h1v2h-1zM447 203h1v3h-1zM448 201h1v2h-1zM449 198h1v3h-1zM450 196h1v2h-1zM451 193h1v3h-1zM452 191h1v2h-1zM453 188h1v3h-1zM454 185h1v3h-1zM455 181h1v4h-1zM456 178h1v3h-1zM457 175h1v3h-1zM458 172h1v3h-1zM459 168h1v4h-1zM460 165h1v3h-1zM461 162h1v3h-1zM462 158h1v4h-1zM463 155h1v3h-1zM464 152h1v3h-1zM465 148h1v4h-1zM466 145h1v3h-1zM467 142h1v3h-1zM468 138h1v4h-1zM469 135h1v3h-1zM470 131h1v4h-1zM471 127h1v4h-1zM472 123h1v4h-1zM473 119h1v4h-1zM474 115h1v4h-1zM475 111h1v4h-1zM476 107h1v4h-1zM477 103h1v4h-1zM478 99h1v4h-1zM479 95h1v4h-1zM480 91h1v4h-1zM481 88h1v3h-1zM482 84h1v4h-1zM483 80h1v4h-1zM484 76h1v4h-1zM485 73h1v3h-1zM486 71h1v2h-1zM487 69h1v2h-1zM488 66h1v3h-1zM489 64h1v2h-1zM490 61h1v3h-1zM491 59h1v2h-1zM492 57h1v2h-1zM493 54h1v3h-1zM494 52h1v2h-1zM495 49h1v3h-1zM496 47h1v2h-1zM497 44h1v3h-1zM498 42h1v2h-1zM499 39h1v3h-1zM500 37h1v2h-1zM501 34h1v3h-1zM502 32h1v2h-1zM503 30h1v2h-1zM504 28h1v2h-1zM505 26h1v2h-1zM506 24h1v2h-1zM507 22h1v2h-1zM508 20h1v2h-1zM509 18h1v2h-1zM510 16h1v2h-1zM511 14h1v2h-1zM512 13h1v1h-1zM513 11h1v2h-1zM514 10h1v1h-1zM515 8h1v2h-1zM516 6h1v2h-1zM517 5h1v1h-1zM574 5h2v1h-2zM576 6h1v1h-1zM577 7h1v1h-1zM578 8h2v1h-2zM580 9h1v1h-1zM581 10h2v1h-2zM583 11h1v1h-1zM584 12h1v1h-1zM585 13h1v1h-1zM586 14h1v2h-1zM587 16h1v1h-1zM588 17h1v1h-1zM589 18h1v1h-1zM590 19h1v2h-1zM591 21h1v2h-1zM592 23h1v1h-1zM593 24h1v2h-1zM594 26h1v1h-1zM595 27h1v2h-1zM596 29h1v2h-1zM597 31h1v1h-1zM598 32h1v1h-1zM599 33h1v1h-1zM600 34h1v1h-1zM601 35h2v1h-2zM603 36h1v1h-1zM604 37h1v1h-1zM605 38h2v1h-2zM607 39h2v1h-2zM609 40h3v1h-3zM612 41h13v1h-13zM625 42h6v1h-6zM631 43h4v1h-4zM635 44h3v1h-3zM638 45h2v1h-2zM640 46h1v1h-1zM641 47h2v1h-2zM643 48h2v1h-2zM645 49h3v1h-3zM648 48h4v1h-4zM652 47h2v1h-2zM654 48h1v1h-1zM655 49h1v1h-1zM656 50h1v1h-1zM657 51h2v1h-2zM659 52h1v1h-1zM660 53h1v1h-1zM661 54h1v1h-1zM662 55h1v1h-1zM663 56h1v1h-1zM664 57h1v1h-1zM665 58h1v2h-1zM666 60h1v1h-1zM667 61h1v1h-1zM668 62h1v1h-1zM669 63h1v1h-1zM670 64h1v2h-1zM671 66h1v1h-1zM672 67h1v2h-1zM673 69h1v1h-1zM674 70h1v2h-1zM675 72h1v1h-1zM676 73h1v2h-1zM677 75h1v1h-1zM678 76h1v2h-1zM679 78h1v2h-1zM680 80h1v2h-1zM681 82h1v1h-1zM682 83h1v2h-1zM683 85h1v2h-1zM684 87h1v2h-1zM685 89h1v1h-1zM686 90h1v1h-1zM687 91h1v2h-1zM688 93h1v1h-1zM689 94h1v1h-1zM690 95h1v1h-1zM691 96h1v2h-1zM692 98h1v1h-1zM693 99h2v1h-2zM695 100h4v1h-4zM699 101h4v1h-4zM703 102h2v1h-2zM705 103h3v1h-3zM708 104h14v1h-14zM722 103h5v1h-5zM727 104h2v1h-2zM729 105h3v1h-3zM732 106h3v1h-3zM735 107h4v1h-4zM739 108h4v1h-4zM743 109h2v1h-2zM745 110h3v1h-3zM748 111h2v1h-2zM750 112h1v1h-1zM751 113h1v1h-1zM752 114h1v1h-1zM753 115h1v1h-1zM754 116h1v1h-1zM755 117h1v1h-1zM756 118h1v1h-1zM757 119h1v1h-1zM758 120h1v1h-1zM759 121h1v1h-1zM760 122h1v1h-1zM761 123h1v1h-1zM762 124h1v1h-1zM763 125h1v1h-1zM764 126h1v1h-1zM765 127h1v1h-1zM766 128h1v1h-1zM767 129h1v1h-1zM768 130h1v1h-1zM769 131h1v1h-1zM770 132h1v1h-1zM771 133h1v1h-1zM772 134h1v1h-1zM773 135h1v1h-1zM774 136h2v1h-2zM776 137h1v1h-1zM777 138h2v1h-2zM779 139h2v1h-2zM781 140h1v1h-1zM782 141h1v1h-1zM783 142h1v1h-1zM784 143h1v1h-1zM785 144h2v1h-2zM787 145h1v1h-1zM788 146h1v1h-1zM789 147h18v1h-18zM807 146h3v1h-3zM810 145h2v1h-2zM812 144h2v1h-2zM814 143h2v1h-2zM816 142h2v1h-2zM818 141h1v1h-1zM819 140h2v1h-2zM821 139h1v1h-1zM822 138h1v1h-1zM823 137h1v1h-1zM824 136h1v1h-1zM825 134h1v2h-1zM826 133h1v1h-1zM827 132h1v1h-1zM828 131h1v1h-1zM829 130h1v1h-1zM830 128h1v2h-1zM831 126h1v2h-1zM832 124h1v2h-1zM833 122h1v2h-1zM834 120h1v2h-1zM835 118h1v2h-1zM836 116h1v2h-1zM837 115h2v1h-2zM839 116h4v1h-4zM843 117h3v1h-3zM846 118h1v1h-1zM847 119h2v1h-2zM849 120h1v1h-1zM850 121h1v1h-1zM851 122h2v1h-2zM853 123h1v1h-1zM854 124h2v1h-2zM856 125h1v1h-1zM857 126h2v1h-2zM859 127h2v1h-2zM861 128h1v1h-1zM862 129h1v1h-1zM863 130h2v1h-2zM865 131h1v1h-1zM866 132h1v1h-1zM867 133h2v1h-2zM869 134h17v1h-17zM886 135h2v1h-2zM888 136h2v1h-2zM890 137h2v1h-2zM892 138h2v1h-2zM894 139h2v1h-2zM896 140h2v1h-2zM898 141h2v1h-2zM900 142h2v1h-2zM902 143h1v1h-1zM903 144h1v1h-1zM904 145h1v1h-1zM905 146h2v1h-2zM907 147h1v1h-1zM908 148h1v1h-1zM909 149h1v1h-1zM910 150h2v1h-2zM912 151h1v1h-1zM913 152h2v1h-2zM915 153h2v1h-2zM917 154h1v1h-1zM918 155h1v1h-1zM919 156h1v1h-1zM920 157h1v1h-1zM921 158h1v2h-1zM922 160h1v1h-1zM923 161h1v1h-1zM924 162h1v1h-1zM925 163h1v1h-1zM926 164h1v1h-1zM927 165h1v1h-1zM928 166h1v1h-1zM929 167h2v1h-2zM931 168h1v1h-1zM932 169h1v1h-1zM933 170h1v1h-1zM934 171h1v1h-1zM935 172h2v1h-2zM937 173h1v1h-1zM938 174h1v1h-1zM939 175h2v1h-2zM941 176h2v1h-2zM943 177h2v1h-2zM945 178h3v1h-3zM948 179h2v1h-2zM950 180h1v1h-1zM951 181h1v1h-1zM952 182h1v1h-1zM953 183h1v1h-1zM954 184h1v1h-1zM955 185h1v1h-1zM956 186h1v1h-1zM957 187h1v1h-1zM958 188h1v1h-1zM959 189h1v1h-1zM960 190h1v1h-1zM961 191h1v1h-1zM962 192h1v1h-1zM963 193h1v1h-1zM964 194h1v1h-1zM965 195h3v1h-3zM968 194h4v1h-4zM972 193h4v1h-4zM976 192h4v1h-4zM980 191h4v1h-4zM984 190h4v1h-4zM988 189h5v1h-5zM993 190h14v1h-14zM1007 189h3v1h-3zM1010 188h2v1h-2zM1012 187h5v1h-5zM1017 188h5v1h-5zM1022 189h2v1h-2zM1024 190h2v1h-2zM1026 191h2v1h-2zM1028 192h2v1h-2zM1030 193h1v1h-1zM1031 194h1v1h-1zM1032 195h1v1h-1zM1033 196h1v1h-1zM1034 197h1v1h-1zM1035 198h1v1h-1zM1036 199h1v1h-1zM1037 200h1v1h-1zM1038 201h1v1h-1zM1039 202h1v1h-1zM1040 203h1v1h-1zM1041 204h1v1h-1zM1042 205h1v1h-1zM1043 206h1v1h-1zM1044 207h1v1h-1zM1045 208h1v1h-1zM1046 209h1v1h-1zM1047 210h1v2h-1zM1048 212h1v1h-1zM1049 213h1v1h-1zM1050 214h1v1h-1zM1051 215h1v2h-1zM1052 217h1v1h-1zM1053 218h1v1h-1zM1054 219h1v1h-1zM1055 220h1v1h-1zM1056 221h1v1h-1zM1057 222h1v2h-1zM1058 224h1v1h-1zM1059 225h1v1h-1zM1060 226h1v1h-1zM1061 227h1v1h-1zM1062 228h2v1h-2zM1064 229h2v1h-2zM1066 230h2v1h-2zM1068 231h3v1h-3zM1071 232h4v1h-4zM1075 233h3v1h-3zM1078 232h2v1h-2zM1080 231h2v1h-2zM1082 230h1v1h-1zM1083 229h2v1h-2zM1085 228h1v1h-1zM1086 227h1v1h-1zM1087 226h1v1h-1zM1088 225h1v1h-1zM1089 224h1v1h-1zM1090 223h1v1h-1zM1091 222h1v1h-1zM1092 221h1v1h-1zM1093 220h1v1h-1zM1094 219h1v1h-1zM1095 218h1v1h-1zM1096 217h1v1h-1zM1097 216h1v1h-1zM1098 215h1v1h-1zM1099 214h1v1h-1zM1100 213h1v1h-1zM1101 212h1v1h-1zM1102 211h1v1h-1zM1103 210h1v1h-1zM1104 209h1v1h-1zM1105 207h1v2h-1zM1106 206h1v1h-1zM1107 205h1v1h-1zM1108 204h1v1h-1zM1109 203h1v1h-1zM1110 201h1v2h-1zM1111 199h1v2h-1zM1112 198h1v1h-1zM1113 196h1v2h-1zM1114 195h1v1h-1zM1115 193h1v2h-1zM1116 191h1v2h-1zM1117 190h1v1h-1zM1118 188h1v2h-1zM1119 186h1v2h-1zM1120 184h1v2h-1zM1121 182h1v2h-1zM1122 180h1v2h-1zM1123 178h1v2h-1zM1124 176h1v2h-1zM1125 173h1v3h-1zM1126 170h1v3h-1zM1127 166h1v4h-1zM1128 163h1v3h-1zM1129 160h1v3h-1zM1130 157h1v3h-1zM1131 153h1v4h-1zM1132 150h1v3h-1zM1133 147h1v3h-1zM1134 145h1v2h-1zM1135 143h1v2h-1zM1136 140h1v3h-1zM1137 138h1v2h-1zM1138 135h1v3h-1zM1139 133h1v2h-1zM1140 131h1v2h-1zM1141 129h1v2h-1zM1142 127h1v2h-1zM1143 125h1v2h-1zM1144 124h1v1h-1zM1145 122h1v2h-1zM1146 121h1v1h-1zM1147 119h1v2h-1zM1148 117h1v2h-1zM1149 116h1v1h-1zM1150 114h1v2h-1zM1151 113h1v1h-1zM1152 111h1v2h-1zM1153 110h1v1h-1zM1154 108h1v2h-1zM1155 107h1v1h-1zM1156 105h1v2h-1zM1157 104h1v1h-1zM1158 102h1v2h-1zM1159 101h1v1h-1zM1160 99h1v2h-1zM1161 98h1v1h-1zM1162 96h1v2h-1zM1163 95h1v1h-1zM1164 93h1v2h-1zM1165 92h5v1h-5zM1170 91h13v1h-13zM1183 92h4v1h-4zM1187 93h6v1h-6zM1193 94h8v1h-8zM1201 95h5v1h-5zM1206 96h1v1h-1zM1207 97h1v1h-1zM1208 98h1v1h-1zM1209 99h1v1h-1zM1210 100h1v1h-1zM1211 101h1v1h-1zM1212 102h1v1h-1zM1213 103h4v1h-4zM1217 104h7v1h-7zM1224 103h4v1h-4zM1228 102h14v1h-14zM1242 101h31v1h-31zM1273 102h8v1h-8zM1281 103h5v1h-5zM1286 104h1v2h-1zM1287 106h1v1h-1zM1288 107h1v1h-1zM1289 108h1v2h-1zM1290 110h1v1h-1zM1291 111h1v1h-1zM1292 112h1v2h-1zM1293 114h1v1h-1zM1294 115h1v1h-1zM1295 116h1v1h-1zM1296 117h1v1h-1zM1297 118h1v1h-1zM1298 119h1v1h-1zM1299 120h1v1h-1zM1300 121h1v1h-1zM1301 122h1v1h-1zM1302 123h1v1h-1zM1303 124h1v1h-1zM1304 125h1v1h-1zM1305 126h2v1h-2zM1307 127h1v1h-1zM1308 128h1v1h-1zM1309 129h1v1h-1zM1310 130h1v2h-1zM1311 132h1v1h-1zM1312 133h1v1h-1zM1313 134h1v2h-1zM1314 136h1v1h-1zM1315 137h1v1h-1zM1316 138h1v2h-1zM1317 140h1v2h-1zM1318 142h1v2h-1zM1319 144h1v2h-1zM1320 146h1v2h-1zM1321 148h1v3h-1zM1322 151h1v2h-1zM1323 153h1v2h-1zM1324 155h1v2h-1zM1325 157h1v2h-1zM1326 159h1v2h-1zM1327 161h1v2h-1zM1328 163h1v2h-1zM1329 165h1v1h-1zM1330 166h1v2h-1zM1331 168h1v2h-1zM1332 170h1v2h-1zM1333 172h1v1h-1zM1334 173h1v1h-1zM1335 174h1v1h-1zM1336 175h1v1h-1zM1337 176h2v1h-2zM1339 177h1v1h-1zM1340 178h1v1h-1zM1341 179h2v1h-2zM1343 180h2v1h-2zM1345 181h3v1h-3zM1348 182h10v1h-10zM1358 183h1v1h-1zM1359 184h2v1h-2zM1361 185h1v1h-1zM1362 186h1v1h-1zM1363 187h2v1h-2zM1365 188h1v1h-1zM1366 189h2v1h-2zM1368 190h2v1h-2zM1370 191h2v1h-2zM1372 192h4v1h-4zM1376 191h4v1h-4zM1380 190h6v1h-6zM1386 189h5v1h-5zM1391 190h2v1h-2zM1393 191h3v1h-3zM1396 192h3v1h-3zM1399 193h4v1h-4zM1403 194h3v1h-3zM1406 195h2v1h-2zM1408 196h2v1h-2zM1410 197h2v1h-2zM1412 198h2v1h-2zM1414 199h2v1h-2zM1416 200h1v1h-1zM1417 201h2v1h-2zM1419 202h2v1h-2zM1421 203h1v1h-1zM1422 204h1v1h-1zM1423 205h1v1h-1zM1424 206h1v1h-1zM1425 207h1v1h-1zM1426 208h1v1h-1zM1427 209h1v1h-1zM1428 210h1v1h-1zM1429 211h12v1h-12zM1441 212h5v1h-5zM1446 211h2v1h-2zM1448 210h1v1h-1zM1449 209h1v1h-1zM1450 208h2v1h-2zM1452 207h1v1h-1zM1453 206h2v1h-2zM1455 205h2v1h-2zM1457 204h2v1h-2zM1459 203h2v1h-2zM1461 202h2v1h-2zM1463 201h2v1h-2zM1465 200h2v1h-2zM1467 199h2v1h-2zM1469 198h2v1h-2zM1471 197h3v1h-3zM1474 196h2v1h-2zM1476 195h3v1h-3zM1479 194h2v1h-2zM1481 193h2v1h-2zM1483 192h2v1h-2zM1485 191h1v1h-1z"/><path fill="#3cb371" d="M5 402h4v1h-4zM9 403h5v1h-5zM14 404h2v1h-2zM16 405h2v1h-2zM18 406h2v1h-2zM20 407h2v1h-2zM22 408h2v1h-2zM24 409h1v1h-1zM25 410h2v1h-2zM27 411h2v1h-2zM29 412h1v1h-1zM30 413h1v1h-1zM31 414h2v1h-2zM33 415h1v1h-1zM34 416h1v1h-1zM35 417h2v1h-2zM37 418h1v1h-1zM38 419h2v1h-2zM40 420h1v1h-1zM41 421h2v1h-2zM43 422h2v1h-2zM45 423h1v1h-1zM46 424h2v1h-2zM48 425h2v1h-2zM50 426h2v1h-2zM52 427h3v1h-3zM55 428h2v1h-2zM57 429h3v1h-3zM60 430h3v1h-3zM63 431h4v1h-4zM67 432h4v1h-4zM71 433h4v1h-4zM75 434h15v1h-15zM90 433h5v1h-5zM95 432h3v1h-3zM98 431h2v1h-2zM100 430h3v1h-3zM103 429h3v1h-3zM106 428h2v1h-2zM108 427h3v1h-3zM111 426h3v1h-3zM114 425h2v1h-2zM116 424h6v1h-6zM122 423h8v1h-8zM130 422h8v1h-8zM138 421h8v1h-8zM146 420h8v1h-8zM154 419h8v1h-8zM162 418h13v1h-13zM175 417h3v1h-3zM178 416h2v1h-2zM180 415h2v1h-2zM182 414h2v1h-2zM184 413h2v1h-2zM186 412h1v1h-1zM187 411h2v1h-2zM189 410h1v1h-1zM190 409h1v1h-1zM191 408h1v1h-1zM192 407h1v1h-1zM193 406h1v1h-1zM194 405h1v1h-1zM195 404h1v1h-1zM196 403h1v1h-1zM197 402h1v1h-1zM198 401h1v1h-1zM199 400h1v1h-1zM200 399h2v1h-2zM202 398h1v1h-1zM203 397h1v1h-1zM204 396h1v1h-1zM205 395h1v1h-1zM206 394h1v1h-1zM207 393h1v1h-1zM208 392h1v1h-1zM209 390h1v2h-1zM210 389h1v1h-1zM211 388h1v1h-1zM212 387h1v1h-1zM213 386h1v1h-1zM214 385h2v1h-2zM216 384h1v1h-1zM217 383h1v1h-1zM218 382h2v1h-2zM220 381h1v1h-1zM221 380h1v1h-1zM222 379h1v1h-1zM223 378h1v1h-1zM224 377h1v1h-1zM225 376h1v1h-1zM226 375h1v1h-1zM227 374h1v1h-1zM228 373h1v1h-1zM229 372h1v1h-1zM230 371h1v1h-1zM231 370h1v1h-1zM232 369h2v1h-2zM234 368h1v1h-1zM235 367h1v1h-1zM236 366h1v1h-1zM237 365h1v1h-1zM238 364h2v1h-2zM240 363h2v1h-2zM242 362h1v1h-1zM243 361h2v1h-2zM245 360h2v1h-2zM247 359h3v1h-3zM250 358h2v1h-2zM252 357h3v1h-3zM255 356h2v1h-2zM257 355h2v1h-2zM259 354h2v1h-2zM261 353h10v1h-10zM271 352h3v1h-3zM274 351h2v1h-2zM276 350h4v1h-4zM280 349h4v1h-4zM284 348h3v1h-3zM287 347h3v1h-3zM290 346h2v1h-2zM292 345h14v1h-14zM306 344h13v1h-13zM319 343h2v1h-2zM321 342h2v1h-2zM323 341h2v1h-2zM325 340h3v1h-3zM328 339h4v1h-4zM332 338h3v1h-3zM335 337h3v1h-3zM338 336h2v1h-2zM340 335h4v1h-4zM344 334h4v1h-4zM348 333h6v1h-6zM354 332h6v1h-6zM360 331h4v1h-4zM364 330h6v1h-6zM370 329h5v1h-5zM375 328h3v1h-3zM378 327h2v1h-2zM380 326h6v1h-6zM386 325h6v1h-6zM392 324h4v1h-4zM396 323h6v1h-6zM402 322h4v1h-4zM406 321h2v1h-2zM408 320h1v1h-1zM409 319h1v1h-1zM410 318h2v1h-2zM412 317h1v1h-1zM413 316h1v1h-1zM414 315h2v1h-2zM416 314h2v1h-2zM418 313h1v1h-1zM419 312h2v1h-2zM421 311h1v1h-1zM422 310h2v1h-2zM424 309h2v1h-2zM426 308h1v1h-1zM427 307h2v1h-2zM429 306h2v1h-2zM431 305h3v1h-3zM434 304h2v1h-2zM436 303h2v1h-2zM438 302h1v1h-1zM439 301h1v1h-1zM440 300h2v1h-2zM442 299h1v1h-1zM443 298h1v1h-1zM444 297h1v1h-1zM445 296h1v1h-1zM446 295h1v1h-1zM447 294h1v1h-1zM448 293h1v1h-1zM449 292h1v1h-1zM450 291h1v1h-1zM451 290h1v1h-1zM452 289h1v1h-1zM453 288h1v1h-1zM454 287h1v1h-1zM455 285h1v2h-1zM456 284h1v1h-1zM457 283h1v1h-1zM458 282h1v1h-1zM459 280h1v2h-1zM460 279h1v1h-1zM461 278h1v1h-1zM462 276h1v2h-1zM463 274h1v2h-1zM464 273h1v1h-1zM465 271h1v2h-1zM466 269h1v2h-1zM467 268h1v1h-1zM468 266h1v2h-1zM469 264h1v2h-1zM470 262h1v2h-1zM471 260h1v2h-1zM472 258h1v2h-1zM473 257h1v1h-1zM474 255h1v2h-1zM475 253h1v2h-1zM476 251h1v2h-1zM477 250h1v1h-1zM478 248h1v2h-1zM479 246h1v2h-1zM480 245h1v1h-1zM481 243h1v2h-1zM482 242h1v1h-1zM483 240h1v2h-1zM484 238h1v2h-1zM485 237h1v1h-1zM486 235h1v2h-1zM487 234h1v1h-1zM488 232h1v2h-1zM489 231h1v1h-1zM490 229h1v2h-1zM491 228h1v1h-1zM492 226h1v2h-1zM493 225h1v1h-1zM494 223h1v2h-1zM495 221h1v2h-1zM496 220h1v1h-1zM497 218h1v2h-1zM498 217h1v1h-1zM499 215h1v2h-1zM500 213h1v2h-1zM501 212h1v1h-1zM502 210h1v2h-1zM503 208h1v2h-1zM504 207h1v1h-1zM505 205h1v2h-1zM506 204h1v1h-1zM507 202h1v2h-1zM508 200h1v2h-1zM509 199h1v1h-1zM510 197h1v2h-1zM511 196h1v1h-1zM512 194h1v2h-1zM513 193h1v1h-1zM514 191h1v2h-1zM515 190h1v1h-1zM516 188h1v2h-1zM517 187h1v1h-1zM518 186h1v1h-1zM519 185h1v1h-1zM520 184h1v1h-1zM521 182h1v2h-1zM522 181h1v1h-1zM523 180h1v1h-1zM524 179h1v1h-1zM525 178h1v1h-1zM526 177h1v1h-1zM527 175h1v2h-1zM528 174h1v1h-1zM529 173h1v1h-1zM530 172h1v1h-1zM531 170h1v2h-1zM532 169h1v1h-1zM533 168h1v1h-1zM534 167h1v1h-1zM535 166h1v1h-1zM536 165h2v1h-2zM538 164h1v1h-1zM539 163h1v1h-1zM540 162h1v1h-1zM541 161h1v1h-1zM542 160h1v1h-1zM543 159h1v1h-1zM544 158h1v1h-1zM545 157h1v1h-1zM546 156h1v1h-1zM547 155h1v1h-1zM548 154h1v1h-1zM549 153h1v1h-1zM550 152h1v1h-1zM551 151h1v1h-1zM552 150h2v1h-2zM554 149h1v1h-1zM555 148h1v1h-1zM556 147h1v1h-1zM557 146h1v1h-1zM558 145h2v1h-2zM560 144h1v1h-1zM561 143h1v1h-1zM562 142h2v1h-2zM564 141h1v1h-1zM565 140h1v1h-1zM566 139h2v1h-2zM568 138h2v1h-2zM570 137h1v1h-1zM571 136h2v1h-2zM573 135h1v1h-1zM574 134h2v1h-2zM576 133h1v1h-1zM577 132h1v1h-1zM578 131h2v1h-2zM580 130h1v1h-1zM581 129h2v1h-2zM583 128h2v1h-2zM585 127h2v1h-2zM587 126h2v1h-2zM589 125h1v1h-1zM590 124h1v1h-1zM591 123h1v1h-1zM592 122h1v1h-1zM593 121h1v1h-1zM594 120h1v1h-1zM595 119h1v1h-1zM596 118h1v1h-1zM597 117h1v1h-1zM598 116h2v1h-2zM600 115h2v1h-2zM602 114h1v1h-1zM603 113h2v1h-2zM605 112h3v1h-3zM608 111h4v1h-4zM612 110h5v1h-5zM617 111h6v1h-6zM623 112h4v1h-4zM627 113h3v1h-3zM630 114h2v1h-2zM632 115h1v1h-1zM633 116h2v1h-2zM635 117h2v1h-2zM637 118h1v1h-1zM638 119h2v1h-2zM640 120h1v1h-1zM641 121h2v1h-2zM643 122h2v1h-2zM645 123h1v1h-1zM646 124h1v1h-1zM647 125h1v1h-1zM648 126h1v1h-1zM649 127h2v1h-2zM651 128h1v1h-1zM652 129h1v1h-1zM653 130h1v1h-1zM654 131h1v1h-1zM655 132h1v1h-1zM656 133h1v1h-1zM657 134h2v1h-2zM659 135h1v1h-1zM660 136h1v1h-1zM661 137h1v1h-1zM662 138h1v1h-1zM663 139h1v1h-1zM664 140h1v1h-1zM665 141h1v1h-1zM666 142h1v1h-1zM667 143h1v1h-1zM668 144h1v1h-1zM669 145h1v1h-1zM670 146h1v1h-1zM671 147h2v1h-2zM673 148h1v1h-1zM674 149h1v1h-1zM675 150h2v1h-2zM677 151h1v1h-1zM678 152h2v1h-2zM680 153h2v1h-2zM682 154h2v1h-2zM684 155h3v1h-3zM687 156h2v1h-2zM689 157h3v1h-3zM692 158h3v1h-3zM695 159h4v1h-4zM699 160h4v1h-4zM703 161h4v1h-4zM707 162h4v1h-4zM711 163h4v1h-4zM715 164h6v1h-6zM721 165h6v1h-6zM727 166h4v1h-4zM731 167h4v1h-4zM735 168h4v1h-4zM739 169h6v1h-6zM745 170h6v1h-6zM751 171h2v1h-2zM753 172h3v1h-3zM756 173h3v1h-3zM759 174h2v1h-2zM761 175h3v1h-3zM764 176h3v1h-3zM767 177h4v1h-4zM771 178h4v1h-4zM775 179h4v1h-4zM779 180h4v1h-4zM783 181h4v1h-4zM787 182h4v1h-4zM791 183h4v1h-4zM795 184h14v1h-14zM809 185h6v1h-6zM815 186h4v1h-4zM819 187h4v1h-4zM823 188h2v1h-2zM825 189h3v1h-3zM828 190h2v1h-2zM830 191h1v1h-1zM831 192h2v1h-2zM833 193h1v1h-1zM834 194h1v1h-1zM835 195h2v1h-2zM837 196h1v1h-1zM838 197h2v1h-2zM840 198h2v1h-2zM842 199h2v1h-2zM844 200h2v1h-2zM846 201h1v1h-1zM847 202h2v1h-2zM849 203h1v1h-1zM850 204h1v1h-1zM851 205h2v1h-2zM853 206h1v1h-1zM854 207h2v1h-2zM856 208h2v1h-2zM858 209h2v1h-2zM860 210h2v1h-2zM862 211h2v1h-2zM864 212h2v1h-2zM866 213h2v1h-2zM868 214h5v1h-5zM873 215h14v1h-14zM887 216h4v1h-4zM891 217h4v1h-4zM895 218h2v1h-2zM897 219h3v1h-3zM900 220h3v1h-3zM903 221h4v1h-4zM907 222h4v1h-4zM911 223h4v1h-4zM915 224h3v1h-3zM918 225h2v1h-2zM920 226h2v1h-2zM922 227h2v1h-2zM924 228h2v1h-2zM926 229h2v1h-2zM928 230h2v1h-2zM930 231h2v1h-2zM932 232h2v1h-2zM934 233h2v1h-2zM936 234h1v1h-1zM937 235h2v1h-2zM939 236h2v1h-2zM941 237h1v1h-1zM942 238h2v1h-2zM944 239h1v1h-1zM945 240h2v1h-2zM947 241h2v1h-2zM949 242h1v1h-1zM950 243h2v1h-2zM952 244h2v1h-2zM954 245h2v1h-2zM956 246h3v1h-3zM959 247h2v1h-2zM961 248h3v1h-3zM964 249h2v1h-2zM966 250h2v1h-2zM968 251h2v1h-2zM970 252h2v1h-2zM972 253h2v1h-2zM974 254h2v1h-2zM976 255h2v1h-2zM978 256h2v1h-2zM980 257h5v1h-5zM985 258h16v1h-16zM1001 259h5v1h-5zM1006 260h2v1h-2zM1008 261h2v1h-2zM1010 262h2v1h-2zM1012 263h2v1h-2zM1014 264h2v1h-2zM1016 265h2v1h-2zM1018 266h2v1h-2zM1020 267h3v1h-3zM1023 268h4v1h-4zM1027 269h4v1h-4zM1031 270h2v1h-2zM1033 271h3v1h-3zM1036 272h2v1h-2zM1038 273h2v1h-2zM1040 274h2v1h-2zM1042 275h2v1h-2zM1044 276h3v1h-3zM1047 277h2v1h-2zM1049 278h3v1h-3zM1052 279h3v1h-3zM1055 280h4v1h-4zM1059 281h4v1h-4zM1063 282h4v1h-4zM1067 283h21v1h-21zM1088 282h4v1h-4zM1092 281h4v1h-4zM1096 280h4v1h-4zM1100 279h3v1h-3zM1103 278h2v1h-2zM1105 277h2v1h-2zM1107 276h2v1h-2zM1109 275h2v1h-2zM1111 274h2v1h-2zM1113 273h2v1h-2zM1115 272h2v1h-2zM1117 271h1v1h-1zM1118 270h2v1h-2zM1120 269h1v1h-1zM1121 268h1v1h-1zM1122 267h2v1h-2zM1124 266h1v1h-1zM1125 265h1v1h-1zM1126 264h1v1h-1zM1127 262h1v2h-1zM1128 261h1v1h-1zM1129 260h1v1h-1zM1130 259h1v1h-1zM1131 257h1v2h-1zM1132 256h1v1h-1zM1133 255h1v1h-1zM1134 254h1v1h-1zM1135 253h1v1h-1zM1136 252h1v1h-1zM1137 251h1v1h-1zM1138 250h1v1h-1zM1139 249h1v1h-1zM1140 248h1v1h-1zM1141 247h1v1h-1zM1142 246h1v1h-1zM1143 245h1v1h-1zM1144 244h1v1h-1zM1145 243h1v1h-1zM1146 242h1v1h-1zM1147 241h1v1h-1zM1148 240h1v1h-1zM1149 239h1v1h-1zM1150 238h1v1h-1zM1151 237h1v1h-1zM1152 236h1v1h-1zM1153 235h1v1h-1zM1154 234h1v1h-1zM1155 233h1v1h-1zM1156 232h1v1h-1zM1157 231h1v1h-1zM1158 230h1v1h-1zM1159 229h1v1h-1zM1160 228h1v1h-1zM1161 227h1v1h-1zM1162 226h1v1h-1zM1163 225h1v1h-1zM1164 224h1v1h-1zM1165 223h1v1h-1zM1166 222h1v1h-1zM1167 221h1v1h-1zM1168 220h1v1h-1zM1169 219h1v1h-1zM1170 218h1v1h-1zM1171 217h1v1h-1zM1172 216h1v1h-1zM1173 215h1v1h-1zM1174 214h1v1h-1zM1175 213h1v1h-1zM1176 212h2v1h-2zM1178 211h1v1h-1zM1179 210h1v1h-1zM1180 209h1v1h-1zM1181 208h1v1h-1zM1182 207h2v1h-2zM1184 206h1v1h-1zM1185 205h1v1h-1zM1186 204h2v1h-2zM1188 203h1v1h-1zM1189 202h2v1h-2zM1191 201h3v1h-3zM1194 200h2v1h-2zM1196 199h3v1h-3zM1199 198h3v1h-3zM1202 197h2v1h-2zM1204 196h3v1h-3zM1207 195h3v1h-3zM1210 194h2v1h-2zM1212 193h6v1h-6zM1218 192h7v1h-7zM1225 193h8v1h-8zM1233 194h16v1h-16zM1249 195h9v1h-9zM1258 194h13v1h-13zM1271 195h4v1h-4zM1275 196h4v1h-4zM1279 197h4v1h-4zM1283 198h3v1h-3zM1286 199h1v1h-1zM1287 200h2v1h-2zM1289 201h1v1h-1zM1290 202h1v1h-1zM1291 203h2v1h-2zM1293 204h1v1h-1zM1294 205h1v1h-1zM1295 206h1v1h-1zM1296 207h1v1h-1zM1297 208h1v1h-1zM1298 209h1v1h-1zM1299 210h1v1h-1zM1300 211h1v1h-1zM1301 212h1v1h-1zM1302 213h1v1h-1zM1303 214h1v1h-1zM1304 215h1v1h-1zM1305 216h1v1h-1zM1306 217h1v1h-1zM1307 218h1v1h-1zM1308 219h1v1h-1zM1309 220h1v1h-1zM1310 221h1v1h-1zM1311 222h1v1h-1zM1312 223h1v1h-1zM1313 224h1v1h-1zM1314 225h1v1h-1zM1315 226h1v1h-1zM1316 227h1v1h-1zM1317 228h1v1h-1zM1318 229h1v1h-1zM1319 230h1v1h-1zM1320 231h1v1h-1zM1321 232h1v1h-1zM1322 233h1v1h-1zM1323 234h1v1h-1zM1324 235h1v1h-1zM1325 236h1v1h-1zM1326 237h1v1h-1zM1327 238h2v1h-2zM1329 239h1v1h-1zM1330 240h1v1h-1zM1331 241h2v1h-2zM1333 242h1v1h-1zM1334 243h1v1h-1zM1335 244h1v1h-1zM1336 245h1v1h-1zM1337 246h2v1h-2zM1339 247h1v1h-1zM1340 248h1v1h-1zM1341 249h1v1h-1zM1342 250h2v1h-2zM1344 251h2v1h-2zM1346 252h2v1h-2zM1348 253h2v1h-2zM1350 254h2v1h-2zM1352 255h2v1h-2zM1354 256h2v1h-2zM1356 257h2v1h-2zM1358 258h1v1h-1zM1359 259h2v1h-2zM1361 260h1v1h-1zM1362 261h1v1h-1zM1363 262h2v1h-2zM1365 263h1v1h-1zM1366 264h1v1h-1zM1367 265h2v1h-2zM1369 266h1v1h-1zM1370 267h1v1h-1zM1371 268h2v1h-2zM1373 269h2v1h-2zM1375 270h2v1h-2zM1377 271h3v1h-3zM1380 272h3v1h-3zM1383 273h4v1h-4zM1387 274h4v1h-4zM1391 275h4v1h-4zM1395 276h6v1h-6zM1401 277h6v1h-6zM1407 278h4v1h-4zM1411 279h6v1h-6zM1417 280h6v1h-6zM1423 281h4v1h-4zM1427 282h21v1h-21zM1448 281h4v1h-4zM1452 280h4v1h-4zM1456 279h4v1h-4zM1460 278h3v1h-3zM1463 277h3v1h-3zM1466 276h2v1h-2zM1468 275h4v1h-4zM1472 274h4v1h-4zM1476 273h4v1h-4zM1480 272h4v1h-4zM1484 271h2v1h-2z"/><path fill="#3cb371" d="M5 462h3v1h-3zM8 463h6v1h-6zM14 464h3v1h-3zM17 465h2v1h-2zM19 466h2v1h-2zM21 467h2v1h-2zM23 468h1v1h-1zM24 469h1v2h-1zM25 471h1v2h-1zM26 473h1v1h-1zM27 474h1v2h-1zM28 476h1v2h-1zM29 478h1v1h-1zM30 479h1v1h-1zM31 480h1v1h-1zM32 481h1v1h-1zM33 482h1v2h-1zM34 484h1v1h-1zM35 485h1v1h-1zM36 486h1v1h-1zM37 487h1v1h-1zM38 488h2v1h-2zM40 489h1v1h-1zM41 490h2v1h-2zM43 491h2v1h-2zM45 492h4v1h-4zM49 493h6v1h-6zM55 492h2v1h-2zM57 491h2v1h-2zM59 490h2v1h-2zM61 489h2v1h-2zM63 490h4v1h-4zM67 491h3v1h-3zM70 492h2v1h-2zM72 493h1v1h-1zM73 494h2v1h-2zM75 495h2v1h-2zM77 496h5v1h-5zM82 495h15v1h-15zM97 496h6v1h-6zM103 495h3v1h-3zM106 494h2v1h-2zM108 493h21v1h-21zM129 494h6v1h-6zM135 495h4v1h-4zM139 496h12v1h-12zM151 497h4v1h-4zM155 498h23v1h-23zM178 497h4v1h-4zM182 496h2v1h-2zM184 495h2v1h-2zM186 494h1v1h-1zM187 492h1v2h-1zM188 490h1v2h-1zM189 489h1v1h-1zM190 488h1v1h-1zM191 487h1v1h-1zM192 486h2v1h-2zM194 485h1v1h-1zM195 484h1v1h-1zM196 483h1v1h-1zM197 482h1v1h-1zM198 481h1v1h-1zM199 480h1v1h-1zM200 479h2v1h-2zM202 478h1v1h-1zM203 477h1v1h-1zM204 476h1v1h-1zM205 475h2v1h-2zM207 474h2v1h-2zM209 473h2v1h-2zM211 472h2v1h-2zM213 471h1v1h-1zM214 470h2v1h-2zM216 469h2v1h-2zM218 468h1v1h-1zM219 467h2v1h-2zM221 466h1v1h-1zM222 465h1v1h-1zM223 464h1v1h-1zM224 463h1v1h-1zM225 461h1v2h-1zM226 460h1v1h-1zM227 459h1v1h-1zM228 458h1v1h-1zM229 456h1v2h-1zM230 454h1v2h-1zM231 452h1v2h-1zM232 450h1v2h-1zM233 447h1v3h-1zM234 445h1v2h-1zM235 442h1v3h-1zM236 440h1v2h-1zM237 438h1v2h-1zM238 436h1v2h-1zM239 435h1v1h-1zM240 434h1v1h-1zM241 432h1v2h-1zM242 431h1v1h-1zM243 430h1v1h-1zM244 428h1v2h-1zM245 427h1v1h-1zM246 426h1v1h-1zM247 425h1v1h-1zM248 424h1v1h-1zM249 423h1v1h-1zM250 422h1v1h-1zM251 421h1v1h-1zM252 420h1v1h-1zM253 419h2v1h-2zM255 418h3v1h-3zM258 417h2v1h-2zM260 416h4v1h-4zM264 415h4v1h-4zM268 414h3v1h-3zM271 413h3v1h-3zM274 412h2v1h-2zM276 411h2v1h-2zM278 410h2v1h-2zM280 409h2v1h-2zM282 408h1v1h-1zM283 407h2v1h-2zM285 406h2v1h-2zM287 405h2v1h-2zM289 404h2v1h-2zM291 403h2v1h-2zM293 402h3v1h-3zM296 401h4v1h-4zM300 400h5v1h-5zM305 401h6v1h-6zM311 400h3v1h-3zM314 399h2v1h-2zM316 398h2v1h-2zM318 397h1v1h-1zM319 395h1v2h-1zM320 394h1v1h-1zM321 392h1v2h-1zM322 391h1v1h-1zM323 389h1v2h-1zM324 387h1v2h-1zM325 386h1v1h-1zM326 385h1v1h-1zM327 384h1v1h-1zM328 383h1v1h-1zM329 382h1v1h-1zM330 381h1v1h-1zM331 380h1v1h-1zM332 379h1v1h-1zM333 378h1v1h-1zM334 377h2v1h-2zM336 376h1v1h-1zM337 375h1v1h-1zM338 374h2v1h-2zM340 373h1v1h-1zM341 372h2v1h-2zM343 371h2v1h-2zM345 370h2v1h-2zM347 369h2v1h-2zM349 368h2v1h-2zM351 369h4v1h-4zM355 370h4v1h-4zM359 371h2v1h-2zM361 372h3v1h-3zM364 373h3v1h-3zM367 374h2v1h-2zM369 375h3v1h-3zM372 376h3v1h-3zM375 377h4v1h-4zM379 378h6v1h-6zM385 379h6v1h-6zM391 380h4v1h-4zM395 381h6v1h-6zM401 382h5v1h-5zM406 383h2v1h-2zM408 384h2v1h-2zM410 385h2v1h-2zM412 386h5v1h-5zM417 387h5v1h-5zM422 386h2v1h-2zM424 385h2v1h-2zM426 384h1v1h-1zM427 383h2v1h-2zM429 382h2v1h-2zM431 381h3v1h-3zM434 380h2v1h-2zM436 379h5v1h-5zM441 380h6v1h-6zM447 381h2v1h-2zM449 382h3v1h-3zM452 383h2v1h-2zM454 384h1v1h-1zM455 385h1v2h-1zM456 387h1v1h-1zM457 388h1v1h-1zM458 389h1v1h-1zM459 390h1v2h-1zM460 392h1v1h-1zM461 393h5v1h-5zM466 392h4v1h-4zM470 393h1v1h-1zM471 394h1v1h-1zM472 395h1v1h-1zM473 396h1v1h-1zM474 397h1v1h-1zM475 398h1v1h-1zM476 399h1v1h-1zM477 400h4v1h-4zM481 401h5v1h-5zM486 400h1v1h-1zM487 399h1v1h-1zM488 398h1v1h-1zM489 396h1v2h-1zM490 395h1v1h-1zM491 394h1v1h-1zM492 393h1v1h-1zM493 392h2v1h-2zM495 391h2v1h-2zM497 390h2v1h-2zM499 389h2v1h-2zM501 388h1v1h-1zM502 387h1v1h-1zM503 385h1v2h-1zM504 384h1v1h-1zM505 383h1v1h-1zM506 382h1v1h-1zM507 380h1v2h-1zM508 379h1v1h-1zM509 378h1v1h-1zM510 376h1v2h-1zM511 375h1v1h-1zM512 374h1v1h-1zM513 372h1v2h-1zM514 371h1v1h-1zM515 370h1v1h-1zM516 368h1v2h-1zM517 367h1v1h-1zM518 365h1v2h-1zM519 364h1v1h-1zM520 363h1v1h-1zM521 361h1v2h-1zM522 360h1v1h-1zM523 359h1v1h-1zM524 357h1v2h-1zM525 356h1v1h-1zM526 354h1v2h-1zM527 353h1v1h-1zM528 352h1v1h-1zM529 350h1v2h-1zM530 349h1v1h-1zM531 348h1v1h-1zM532 346h1v2h-1zM533 345h1v1h-1zM534 343h1v2h-1zM535 341h1v2h-1zM536 339h1v2h-1zM537 338h1v1h-1zM538 336h1v2h-1zM539 334h1v2h-1zM540 332h1v2h-1zM541 331h1v1h-1zM542 329h1v2h-1zM543 327h1v2h-1zM544 325h1v2h-1zM545 323h1v2h-1zM546 321h1v2h-1zM547 319h1v2h-1zM548 317h1v2h-1zM549 314h1v3h-1zM550 312h1v2h-1zM551 309h1v3h-1zM552 306h1v3h-1zM553 304h1v2h-1zM554 301h1v3h-1zM555 299h1v2h-1zM556 297h1v2h-1zM557 295h1v2h-1zM558 293h1v2h-1zM559 291h1v2h-1zM560 289h1v2h-1zM561 287h1v2h-1zM562 285h1v2h-1zM563 283h1v2h-1zM564 282h1v1h-1zM565 280h1v2h-1zM566 278h1v2h-1zM567 276h1v2h-1zM568 275h1v1h-1zM569 273h1v2h-1zM570 271h1v2h-1zM571 269h1v2h-1zM572 267h1v2h-1zM573 265h1v2h-1zM574 264h1v1h-1zM575 262h1v2h-1zM576 260h1v2h-1zM577 258h1v2h-1zM578 256h1v2h-1zM579 254h1v2h-1zM580 252h1v2h-1zM581 249h1v3h-1zM582 247h1v2h-1zM583 245h1v2h-1zM584 243h1v2h-1zM585 240h1v3h-1zM586 238h1v2h-1zM587 236h1v2h-1zM588 234h1v2h-1zM589 231h1v3h-1zM590 228h1v3h-1zM591 225h1v3h-1zM592 222h1v3h-1zM593 219h1v3h-1zM594 215h1v4h-1zM595 211h1v4h-1zM596 207h1v4h-1zM597 204h1v3h-1zM598 202h1v2h-1zM599 200h1v2h-1zM600 198h1v2h-1zM601 196h1v2h-1zM602 194h1v2h-1zM603 192h1v2h-1zM604 190h1v2h-1zM605 188h1v2h-1zM606 187h1v1h-1zM607 186h1v1h-1zM608 185h1v1h-1zM609 183h1v2h-1zM610 182h1v1h-1zM611 181h1v1h-1zM612 180h1v1h-1zM613 179h4v1h-4zM617 180h6v1h-6zM623 181h2v1h-2zM625 182h3v1h-3zM628 183h2v1h-2zM630 184h1v1h-1zM631 185h1v1h-1zM632 186h1v1h-1zM633 187h2v1h-2zM635 188h1v1h-1zM636 189h1v1h-1zM637 190h1v1h-1zM638 191h1v1h-1zM639 192h1v2h-1zM640 194h1v1h-1zM641 195h1v1h-1zM642 196h1v2h-1zM643 198h1v2h-1zM644 200h1v2h-1zM645 202h1v1h-1zM646 203h1v1h-1zM647 204h1v2h-1zM648 206h1v1h-1zM649 207h1v1h-1zM650 208h1v1h-1zM651 209h1v2h-1zM652 211h1v1h-1zM653 212h1v1h-1zM654 213h1v1h-1zM655 214h1v1h-1zM656 215h1v1h-1zM657 216h1v2h-1zM658 218h1v1h-1zM659 219h1v1h-1zM660 220h1v1h-1zM661 221h1v1h-1zM662 222h2v1h-2zM664 223h1v1h-1zM665 224h2v1h-2zM667 225h2v1h-2zM669 226h4v1h-4zM673 227h5v1h-5zM678 226h2v1h-2zM680 225h2v1h-2zM682 224h1v1h-1zM683 223h2v1h-2zM685 222h2v1h-2zM687 221h2v1h-2zM689 220h2v1h-2zM691 219h2v1h-2zM693 218h12v1h-12zM705 219h5v1h-5zM710 220h2v1h-2zM712 221h2v1h-2zM714 222h2v1h-2zM716 223h2v1h-2zM718 224h2v1h-2zM720 225h1v1h-1zM721 226h2v1h-2zM723 227h2v1h-2zM725 228h10v1h-10zM735 229h4v1h-4zM739 230h13v1h-13zM752 229h4v1h-4zM756 228h3v1h-3zM759 227h3v1h-3zM762 226h2v1h-2zM764 225h3v1h-3zM767 224h3v1h-3zM770 223h2v1h-2zM772 222h3v1h-3zM775 221h3v1h-3zM778 220h2v1h-2zM780 219h21v1h-21zM801 220h5v1h-5zM806 221h1v1h-1zM807 222h1v1h-1zM808 223h1v1h-1zM809 224h1v1h-1zM810 225h1v1h-1zM811 226h1v1h-1zM812 227h1v1h-1zM813 228h1v1h-1zM814 229h1v1h-1zM815 230h1v1h-1zM816 231h1v1h-1zM817 232h2v1h-2zM819 233h1v1h-1zM820 234h1v1h-1zM821 235h1v1h-1zM822 236h1v2h-1zM823 238h1v2h-1zM824 240h1v2h-1zM825 242h1v1h-1zM826 243h1v2h-1zM827 245h1v2h-1zM828 247h1v2h-1zM829 249h1v2h-1zM830 251h1v3h-1zM831 254h1v3h-1zM832 257h1v3h-1zM833 260h1v2h-1zM834 262h1v3h-1zM835 265h1v3h-1zM836 268h1v3h-1zM837 271h1v2h-1zM838 273h1v2h-1zM839 275h1v2h-1zM840 277h1v1h-1zM841 278h1v2h-1zM842 280h1v1h-1zM843 281h1v2h-1zM844 283h1v2h-1zM845 285h1v1h-1zM846 286h2v1h-2zM848 287h1v1h-1zM849 288h2v1h-2zM851 289h2v1h-2zM853 290h2v1h-2zM855 291h2v1h-2zM857 292h3v1h-3zM860 293h3v1h-3zM863 294h4v1h-4zM867 295h38v1h-38zM905 296h17v1h-17zM922 295h12v1h-12zM934 296h2v1h-2zM936 297h2v1h-2zM938 298h2v1h-2zM940 299h2v1h-2zM942 300h2v1h-2zM944 301h1v1h-1zM945 302h2v1h-2zM947 303h2v1h-2zM949 304h17v1h-17zM966 305h1v1h-1zM967 306h1v2h-1zM968 308h1v1h-1zM969 309h1v1h-1zM970 310h1v1h-1zM971 311h1v2h-1zM972 313h1v1h-1zM973 314h1v1h-1zM974 315h1v1h-1zM975 316h1v2h-1zM976 318h1v1h-1zM977 319h1v1h-1zM978 320h1v1h-1zM979 321h1v2h-1zM980 323h1v1h-1zM981 324h1v1h-1zM982 325h2v1h-2zM984 326h2v1h-2zM986 327h2v1h-2zM988 328h3v1h-3zM991 327h3v1h-3zM994 326h2v1h-2zM996 325h3v1h-3zM999 326h2v1h-2zM1001 327h3v1h-3zM1004 328h2v1h-2zM1006 329h1v2h-1zM1007 331h1v1h-1zM1008 332h1v2h-1zM1009 334h1v1h-1zM1010 335h1v2h-1zM1011 337h1v1h-1zM1012 338h1v2h-1zM1013 340h1v1h-1zM1014 341h2v1h-2zM1016 342h2v1h-2zM1018 343h2v1h-2zM1020 344h5v1h-5zM1025 345h7v1h-7zM1032 344h4v1h-4zM1036 343h3v1h-3zM1039 342h3v1h-3zM1042 341h2v1h-2zM1044 340h6v1h-6zM1050 339h5v1h-5zM1055 338h3v1h-3zM1058 337h2v1h-2zM1060 336h4v1h-4zM1064 335h4v1h-4zM1068 334h13v1h-13zM1081 335h5v1h-5zM1086 336h2v1h-2zM1088 337h1v1h-1zM1089 338h2v1h-2zM1091 339h2v1h-2zM1093 340h2v1h-2zM1095 341h4v1h-4zM1099 342h4v1h-4zM1103 343h2v1h-2zM1105 344h3v1h-3zM1108 345h2v1h-2zM1110 346h2v1h-2zM1112 347h2v1h-2zM1114 348h2v1h-2zM1116 349h2v1h-2zM1118 350h2v1h-2zM1120 351h1v1h-1zM1121 352h2v1h-2zM1123 353h2v1h-2zM1125 354h1v1h-1zM1126 355h1v1h-1zM1127 356h1v1h-1zM1128 357h1v1h-1zM1129 358h1v1h-1zM1130 359h1v1h-1zM1131 360h1v1h-1zM1132 361h1v1h-1zM1133 362h10v1h-10zM1143 361h3v1h-3zM1146 360h2v1h-2zM1148 359h3v1h-3zM1151 358h3v1h-3zM1154 357h2v1h-2zM1156 356h2v1h-2zM1158 355h2v1h-2zM1160 354h2v1h-2zM1162 353h1v1h-1zM1163 352h2v1h-2zM1165 351h1v1h-1zM1166 349h1v2h-1zM1167 347h1v2h-1zM1168 345h1v2h-1zM1169 343h1v2h-1zM1170 341h1v2h-1zM1171 339h1v2h-1zM1172 337h1v2h-1zM1173 335h1v2h-1zM1174 333h1v2h-1zM1175 331h1v2h-1zM1176 329h1v2h-1zM1177 328h1v1h-1zM1178 326h1v2h-1zM1179 324h1v2h-1zM1180 322h1v2h-1zM1181 321h1v1h-1zM1182 320h1v1h-1zM1183 318h1v2h-1zM1184 317h1v1h-1zM1185 316h1v1h-1zM1186 315h1v1h-1zM1187 313h1v2h-1zM1188 312h1v1h-1zM1189 311h1v1h-1zM1190 310h2v1h-2zM1192 309h1v1h-1zM1193 308h1v1h-1zM1194 307h2v1h-2zM1196 306h1v1h-1zM1197 305h1v1h-1zM1198 304h2v1h-2zM1200 303h1v1h-1zM1201 302h1v1h-1zM1202 301h2v1h-2zM1204 300h1v1h-1zM1205 298h1v2h-1zM1206 296h1v2h-1zM1207 294h1v2h-1zM1208 292h1v2h-1zM1209 290h1v2h-1zM1210 288h1v2h-1zM1211 286h1v2h-1zM1212 284h1v2h-1zM1213 282h3v1h-3zM1213 283h1v1h-1zM1216 281h4v1h-4zM1220 280h2v1h-2zM1222 281h2v1h-2zM1224 282h1v1h-1zM1225 283h2v1h-2zM1227 284h2v1h-2zM1229 285h4v1h-4zM1233 286h6v1h-6zM1239 287h4v1h-4zM1243 288h15v1h-15zM1258 287h13v1h-13zM1271 288h2v1h-2zM1273 289h3v1h-3zM1276 290h3v1h-3zM1279 291h4v1h-4zM1283 292h6v1h-6zM1289 293h5v1h-5zM1294 294h1v1h-1zM1295 295h1v1h-1zM1296 296h1v1h-1zM1297 297h1v2h-1zM1298 299h1v1h-1zM1299 300h1v1h-1zM1300 301h1v1h-1zM1301 302h1v1h-1zM1302 303h1v1h-1zM1303 304h1v2h-1zM1304 306h1v1h-1zM1305 307h1v1h-1zM1306 308h1v1h-1zM1307 309h1v2h-1zM1308 311h1v1h-1zM1309 312h2v1h-2zM1311 313h4v1h-4zM1315 314h4v1h-4zM1319 313h3v1h-3zM1322 312h2v1h-2zM1324 311h6v1h-6zM1330 310h4v1h-4zM1334 311h2v1h-2zM1336 312h1v1h-1zM1337 313h2v1h-2zM1339 314h2v1h-2zM1341 315h1v1h-1zM1342 316h1v1h-1zM1343 317h1v1h-1zM1344 318h1v1h-1zM1345 319h1v1h-1zM1346 320h1v1h-1zM1347 321h1v1h-1zM1348 322h1v1h-1zM1349 323h1v1h-1zM1350 324h1v1h-1zM1351 325h1v1h-1zM1352 326h1v1h-1zM1353 327h1v1h-1zM1354 328h1v1h-1zM1355 329h1v1h-1zM1356 330h1v1h-1zM1357 331h1v1h-1zM1358 332h1v1h-1zM1359 333h1v1h-1zM1360 334h1v1h-1zM1361 335h1v1h-1zM1362 336h1v1h-1zM1363 337h1v1h-1zM1364 338h1v1h-1zM1365 339h1v1h-1zM1366 340h1v1h-1zM1367 341h2v1h-2zM1369 342h1v1h-1zM1370 343h1v1h-1zM1371 344h2v1h-2zM1373 345h1v1h-1zM1374 346h1v1h-1zM1375 347h1v1h-1zM1376 348h1v1h-1zM1377 349h1v1h-1zM1378 350h1v1h-1zM1379 351h1v1h-1zM1380 352h1v1h-1zM1381 353h1v1h-1zM1382 354h1v1h-1zM1383 355h2v1h-2zM1385 356h1v1h-1zM1386 357h1v1h-1zM1387 358h2v1h-2zM1389 359h4v1h-4zM1393 360h17v1h-17zM1410 359h5v1h-5zM1415 358h2v1h-2zM1417 357h2v1h-2zM1419 356h2v1h-2zM1421 355h2v1h-2zM1423 354h3v1h-3zM1426 353h2v1h-2zM1428 352h19v1h-19zM1447 353h2v1h-2zM1449 354h3v1h-3zM1452 355h4v1h-4zM1456 354h4v1h-4zM1460 353h4v1h-4zM1464 352h4v1h-4zM1468 351h4v1h-4zM1472 350h4v1h-4zM1476 349h3v1h-3zM1479 350h4v1h-4zM1483 351h3v1h-3z"/></g>
<g id="hlines" fill="#ff0000"><rect x="5" y="142" width="1867" height="1"/><rect x="5" y="140" width="5" height="5"/><rect x="6" y="141" width="3" height="3" fill="#fffff8"/><rect x="1867" y="140" width="5" height="5"/><rect x="1868" y="141" width="3" height="3" fill="#fffff8"/><rect x="5" y="191" width="1867" height="1"/><rect x="5" y="189" width="5" height="5"/><rect x="6" y="190" width="3" height="3" fill="#fffff8"/><rect x="1867" y="189" width="5" height="5"/><rect x="1868" y="190" width="3" height="3" fill="#fffff8"/><rect x="5" y="268" width="1867" height="1"/><rect x="5" y="266" width="5" height="5"/><rect x="6" y="267" width="3" height="3" fill="#fffff8"/><rect x="1867" y="266" width="5" height="5"/><rect x="1868" y="267" width="3" height="3" fill="#fffff8"/><rect x="5" y="315" width="1867" height="1"/><rect x="5" y="313" width="5" height="5"/><rect x="6" y="314" width="3" height="3" fill="#fffff8"/><rect x="1867" y="313" width="5" height="5"/><rect x="1868" y="314" width="3" height="3" fill="#fffff8"/></g>
<polygon points="1492.5,5 1502.5,5 1497.5,10" fill="#000" shape-rendering="auto"/>
<g id="macd" clip-path="url(#cs)"><rect x="5" y="689" width="1" height="3" fill="#ff0000"/><rect x="13" y="691" width="1" height="1" fill="#008000"/><rect x="21" y="691" width="1" height="9" fill="#008000"/><rect x="29" y="691" width="1" height="25" fill="#008000"/><rect x="37" y="691" width="1" height="35" fill="#008000"/><rect x="45" y="691" width="1" height="39" fill="#008000"/><rect x="53" y="691" width="1" height="35" fill="#008000"/><rect x="61" y="691" width="1" height="26" fill="#008000"/><rect x="69" y="691" width="1" height="21" fill="#008000"/><rect x="77" y="691" width="1" height="20" fill="#008000"/><rect x="85" y="691" width="1" height="12" fill="#008000"/><rect x="93" y="688" width="1" height="4" fill="#ff0000"/><rect x="101" y="676" width="1" height="16" fill="#ff0000"/><rect x="109" y="664" width="1" height="28" fill="#ff0000"/><rect x="117" y="660" width="1" height="32" fill="#ff0000"/><rect x="125" y="661" width="1" height="31" fill="#ff0000"/><rect x="133" y="660" width="1" height="32" fill="#ff0000"/><rect x="141" y="658" width="1" height="34" fill="#ff0000"/><rect x="149" y="663" width="1" height="29" fill="#ff0000"/><rect x="157" y="665" width="1" height="27" fill="#ff0000"/><rect x="165" y="680" width="1" height="12" fill="#ff0000"/><rect x="173" y="685" width="1" height="7" fill="#ff0000"/><rect x="181" y="688" width="1" height="4" fill="#ff0000"/><rect x="189" y="686" width="1" height="6" fill="#ff0000"/><rect x="197" y="680" width="1" height="12" fill="#ff0000"/><rect x="205" y="672" width="1" height="20" fill="#ff0000"/><rect x="213" y="665" width="1" height="27" fill="#ff0000"/><rect x="221" y="670" width="1" height="22" fill="#ff0000"/><rect x="229" y="670" width="1" height="22" fill="#ff0000"/><rect x="237" y="674" width="1" height="18" fill="#ff0000"/><rect x="245" y="675" width="1" height="17" fill="#ff0000"/><rect x="253" y="686" width="1" height="6" fill="#ff0000"/><rect x="261" y="691" width="1" height="1" fill="#008000"/><rect x="269" y="691" width="1" height="13" fill="#008000"/><rect x="277" y="691" width="1" height="17" fill="#008000"/><rect x="285" y="691" width="1" height="19" fill="#008000"/><rect x="293" y="691" width="1" height="21" fill="#008000"/><rect x="301" y="691" width="1" height="17" fill="#008000"/><rect x="309" y="691" width="1" height="26" fill="#008000"/><rect x="317" y="691" width="1" height="20" fill="#008000"/><rect x="325" y="691" width="1" height="17" fill="#008000"/><rect x="333" y="691" width="1" height="13" fill="#008000"/><rect x="341" y="691" width="1" height="8" fill="#008000"/><rect x="349" y="691" width="1" height="4" fill="#008000"/><rect x="357" y="690" width="1" height="2" fill="#ff0000"/><rect x="365" y="681" width="1" height="11" fill="#ff0000"/><rect x="373" y="674" width="1" height="18" fill="#ff0000"/><rect x="381" y="672" width="1" height="20" fill="#ff0000"/><rect x="389" y="674" width="1" height="18" fill="#ff0000"/><rect x="397" y="675" width="1" height="17" fill="#ff0000"/><rect x="405" y="678" width="1" height="14" fill="#ff0000"/><rect x="413" y="672" width="1" height="20" fill="#ff0000"/><rect x="421" y="674" width="1" height="18" fill="#ff0000"/><rect x="429" y="677" width="1" height="15" fill="#ff0000"/><rect x="437" y="683" width="1" height="9" fill="#ff0000"/><rect x="445" y="676" width="1" height="16" fill="#ff0000"/><rect x="453" y="666" width="1" height="26" fill="#ff0000"/><rect x="461" y="652" width="1" height="40" fill="#ff0000"/><rect x="469" y="638" width="1" height="54" fill="#ff0000"/><rect x="477" y="626" width="1" height="66" fill="#ff0000"/><rect x="485" y="620" width="1" height="72" fill="#ff0000"/><rect x="493" y="628" width="1" height="64" fill="#ff0000"/><rect x="501" y="632" width="1" height="60" fill="#ff0000"/><rect x="509" y="643" width="1" height="49" fill="#ff0000"/><rect x="517" y="656" width="1" height="36" fill="#ff0000"/><rect x="525" y="670" width="1" height="22" fill="#ff0000"/><rect x="533" y="688" width="1" height="4" fill="#ff0000"/><rect x="541" y="691" width="1" height="20" fill="#008000"/><rect x="549" y="691" width="1" height="35" fill="#008000"/><rect x="557" y="691" width="1" height="51" fill="#008000"/><rect x="565" y="691" width="1" height="65" fill="#008000"/><rect x="573" y="691" width="1" height="64" fill="#008000"/><rect x="581" y="691" width="1" height="64" fill="#008000"/><rect x="589" y="691" width="1" height="57" fill="#008000"/><rect x="597" y="691" width="1" height="46" fill="#008000"/><rect x="605" y="691" width="1" height="37" fill="#008000"/><rect x="613" y="691" width="1" height="30" fill="#008000"/><rect x="621" y="691" width="1" height="28" fill="#008000"/><rect x="629" y="691" width="1" height="26" fill="#008000"/><rect x="637" y="691" width="1" height="33" fill="#008000"/><rect x="645" y="691" width="1" height="40" fill="#008000"/><rect x="653" y="691" width="1" height="49" fill="#008000"/><rect x="661" y="691" width="1" height="51" fill="#008000"/><rect x="669" y="691" width="1" height="52" fill="#008000"/><rect x="677" y="691" width="1" height="46" fill="#008000"/><rect x="685" y="691" width="1" height="32" fill="#008000"/><rect x="693" y="691" width="1" height="16" fill="#008000"/><rect x="701" y="691" width="1" height="8" fill="#008000"/><rect x="709" y="691" width="1" height="1" fill="#008000"/><rect x="717" y="691" width="1" height="4" fill="#008000"/><rect x="725" y="691" width="1" height="9" fill="#008000"/><rect x="733" y="691" width="1" height="5" fill="#008000"/><rect x="741" y="691" width="1" height="4" fill="#008000"/><rect x="749" y="691" width="1" height="3" fill="#008000"/><rect x="757" y="691" width="1" height="3" fill="#008000"/><rect x="765" y="691" width="1" height="1" fill="#ff0000"/><rect x="773" y="689" width="1" height="3" fill="#ff0000"/><rect x="781" y="688" width="1" height="4" fill="#ff0000"/><rect x="789" y="691" width="1" height="1" fill="#008000"/><rect x="797" y="691" width="1" height="1" fill="#008000"/><rect x="805" y="691" width="1" height="3" fill="#008000"/><rect x="813" y="691" width="1" height="15" fill="#008000"/><rect x="821" y="691" width="1" height="23" fill="#008000"/><rect x="829" y="691" width="1" height="33" fill="#008000"/><rect x="837" y="691" width="1" height="47" fill="#008000"/><rect x="845" y="691" width="1" height="43" fill="#008000"/><rect x="853" y="691" width="1" height="36" fill="#008000"/><rect x="861" y="691" width="1" height="24" fill="#008000"/><rect x="869" y="691" width="1" height="12" fill="#008000"/><rect x="877" y="688" width="1" height="4" fill="#ff0000"/><rect x="885" y="675" width="1" height="17" fill="#ff0000"/><rect x="893" y="668" width="1" height="24" fill="#ff0000"/><rect x="901" y="666" width="1" height="26" fill="#ff0000"/><rect x="909" y="671" width="1" height="21" fill="#ff0000"/><rect x="917" y="675" width="1" height="17" fill="#ff0000"/><rect x="925" y="680" width="1" height="12" fill="#ff0000"/><rect x="933" y="687" width="1" height="5" fill="#ff0000"/><rect x="941" y="691" width="1" height="7" fill="#008000"/><rect x="949" y="691" width="1" height="13" fill="#008000"/><rect x="957" y="691" width="1" height="15" fill="#008000"/><rect x="965" y="691" width="1" height="15" fill="#008000"/><rect x="973" y="691" width="1" height="20" fill="#008000"/><rect x="981" y="691" width="1" height="24" fill="#008000"/><rect x="989" y="691" width="1" height="20" fill="#008000"/><rect x="997" y="691" width="1" height="15" fill="#008000"/><rect x="1005" y="691" width="1" height="9" fill="#008000"/><rect x="1013" y="691" width="1" height="13" fill="#008000"/><rect x="1021" y="691" width="1" height="7" fill="#008000"/><rect x="1029" y="689" width="1" height="3" fill="#ff0000"/><rect x="1037" y="679" width="1" height="13" fill="#ff0000"/><rect x="1045" y="671" width="1" height="21" fill="#ff0000"/><rect x="1053" y="675" width="1" height="17" fill="#ff0000"/><rect x="1061" y="673" width="1" height="19" fill="#ff0000"/><rect x="1069" y="666" width="1" height="26" fill="#ff0000"/><rect x="1077" y="659" width="1" height="33" fill="#ff0000"/><rect x="1085" y="654" width="1" height="38" fill="#ff0000"/><rect x="1093" y="650" width="1" height="42" fill="#ff0000"/><rect x="1101" y="651" width="1" height="41" fill="#ff0000"/><rect x="1109" y="649" width="1" height="43" fill="#ff0000"/><rect x="1117" y="648" width="1" height="44" fill="#ff0000"/><rect x="1125" y="646" width="1" height="46" fill="#ff0000"/><rect x="1133" y="636" width="1" height="56" fill="#ff0000"/><rect x="1141" y="634" width="1" height="58" fill="#ff0000"/><rect x="1149" y="639" width="1" height="53" fill="#ff0000"/><rect x="1157" y="645" width="1" height="47" fill="#ff0000"/><rect x="1165" y="651" width="1" height="41" fill="#ff0000"/><rect x="1173" y="664" width="1" height="28" fill="#ff0000"/><rect x="1181" y="681" width="1" height="11" fill="#ff0000"/><rect x="1189" y="691" width="1" height="9" fill="#008000"/><rect x="1197" y="691" width="1" height="29" fill="#008000"/><rect x="1205" y="691" width="1" height="35" fill="#008000"/><rect x="1213" y="691" width="1" height="41" fill="#008000"/><rect x="1221" y="691" width="1" height="55" fill="#008000"/><rect x="1229" y="691" width="1" height="62" fill="#008000"/><rect x="1237" y="691" width="1" height="57" fill="#008000"/><rect x="1245" y="691" width="1" height="47" fill="#008000"/><rect x="1253" y="691" width="1" height="36" fill="#008000"/><rect x="1261" y="691" width="1" height="24" fill="#008000"/><rect x="1269" y="691" width="1" height="11" fill="#008000"/><rect x="1277" y="691" width="1" height="5" fill="#008000"/><rect x="1285" y="691" width="1" height="1" fill="#008000"/><rect x="1293" y="691" width="1" height="1" fill="#008000"/><rect x="1301" y="691" width="1" height="17" fill="#008000"/><rect x="1309" y="691" width="1" height="27" fill="#008000"/><rect x="1317" y="691" width="1" height="30" fill="#008000"/><rect x="1325" y="691" width="1" height="27" fill="#008000"/><rect x="1333" y="691" width="1" height="25" fill="#008000"/><rect x="1341" y="691" width="1" height="28" fill="#008000"/><rect x="1349" y="691" width="1" height="28" fill="#008000"/><rect x="1357" y="691" width="1" height="26" fill="#008000"/><rect x="1365" y="691" width="1" height="24" fill="#008000"/><rect x="1373" y="691" width="1" height="22" fill="#008000"/><rect x="1381" y="691" width="1" height="19" fill="#008000"/><rect x="1389" y="691" width="1" height="16" fill="#008000"/><rect x="1397" y="691" width="1" height="1" fill="#008000"/><rect x="1405" y="676" width="1" height="16" fill="#ff0000"/><rect x="1413" y="665" width="1" height="27" fill="#ff0000"/><rect x="1421" y="656" width="1" height="36" fill="#ff0000"/><rect x="1429" y="649" width="1" height="43" fill="#ff0000"/><rect x="1437" y="644" width="1" height="48" fill="#ff0000"/><rect x="1445" y="643" width="1" height="49" fill="#ff0000"/><rect x="1453" y="643" width="1" height="49" fill="#ff0000"/><rect x="1461" y="653" width="1" height="39" fill="#ff0000"/><rect x="1469" y="662" width="1" height="30" fill="#ff0000"/><rect x="1477" y="672" width="1" height="20" fill="#ff0000"/><rect x="1485" y="675" width="1" height="17" fill="#ff0000"/></g>
<path fill="#0000ff" d="M5 665h1v1h-1zM6 666h2v1h-2zM8 667h2v1h-2zM10 668h2v1h-2zM12 669h2v1h-2zM14 670h1v1h-1zM15 671h1v1h-1zM16 672h1v1h-1zM17 673h2v1h-2zM19 674h1v1h-1zM20 675h1v1h-1zM21 676h1v1h-1zM22 677h1v2h-1zM23 679h1v2h-1zM24 681h1v1h-1zM25 682h1v2h-1zM26 684h1v1h-1zM27 685h1v2h-1zM28 687h1v2h-1zM29 689h1v1h-1zM30 690h1v2h-1zM31 692h1v1h-1zM32 693h1v2h-1zM33 695h1v1h-1zM34 696h1v2h-1zM35 698h1v1h-1zM36 699h1v2h-1zM37 701h1v1h-1zM38 702h1v1h-1zM39 703h1v1h-1zM40 704h1v1h-1zM41 705h2v1h-2zM43 706h1v1h-1zM44 707h1v1h-1zM45 708h4v1h-4zM49 709h9v1h-9zM58 708h12v1h-12zM70 709h2v1h-2zM72 710h1v1h-1zM73 711h2v1h-2zM75 712h2v1h-2zM77 713h5v1h-5zM82 712h4v1h-4zM86 711h1v1h-1zM87 710h1v1h-1zM88 709h1v1h-1zM89 707h1v2h-1zM90 706h1v1h-1zM91 705h1v1h-1zM92 704h1v1h-1zM93 703h1v1h-1zM94 702h1v1h-1zM95 701h1v1h-1zM96 700h1v1h-1zM97 698h1v2h-1zM98 697h1v1h-1zM99 696h1v1h-1zM100 695h1v1h-1zM101 694h1v1h-1zM102 692h1v2h-1zM103 691h1v1h-1zM104 690h1v1h-1zM105 688h1v2h-1zM106 687h1v1h-1zM107 686h1v1h-1zM108 684h1v2h-1zM109 683h1v1h-1zM110 682h1v1h-1zM111 681h1v1h-1zM112 680h2v1h-2zM114 679h1v1h-1zM115 678h1v1h-1zM116 677h1v1h-1zM117 676h2v1h-2zM119 675h3v1h-3zM122 674h2v1h-2zM124 673h2v1h-2zM126 672h2v1h-2zM128 671h2v1h-2zM130 670h1v1h-1zM131 669h2v1h-2zM133 668h1v1h-1zM134 667h1v1h-1zM135 666h1v1h-1zM136 665h1v1h-1zM137 664h1v1h-1zM138 663h1v1h-1zM139 662h1v1h-1zM140 661h1v1h-1zM141 660h3v1h-3zM144 659h4v1h-4zM148 658h2v1h-2zM150 657h2v1h-2zM152 656h2v1h-2zM154 655h1v1h-1zM155 654h2v1h-2zM157 653h1v1h-1zM158 654h1v1h-1zM159 655h1v1h-1zM160 656h1v1h-1zM161 657h2v1h-2zM163 658h1v1h-1zM164 659h1v1h-1zM165 660h13v1h-13zM178 659h5v1h-5zM183 658h3v1h-3zM186 657h2v1h-2zM188 656h2v1h-2zM190 655h1v1h-1zM191 654h1v1h-1zM192 653h1v1h-1zM193 652h1v1h-1zM194 651h1v1h-1zM195 650h1v1h-1zM196 649h1v1h-1zM197 648h1v1h-1zM198 647h1v1h-1zM199 646h1v1h-1zM200 645h1v1h-1zM201 643h1v2h-1zM202 642h1v1h-1zM203 641h1v1h-1zM204 640h1v1h-1zM205 639h1v1h-1zM206 638h1v1h-1zM207 637h1v1h-1zM208 636h1v1h-1zM209 635h1v1h-1zM210 634h1v1h-1zM211 633h1v1h-1zM212 632h1v1h-1zM213 631h11v1h-11zM224 630h4v1h-4zM228 629h11v1h-11zM239 628h2v1h-2zM241 627h2v1h-2zM243 626h2v1h-2zM245 625h1v1h-1zM246 626h1v1h-1zM247 627h2v1h-2zM249 628h1v1h-1zM250 629h1v1h-1zM251 630h2v1h-2zM253 631h2v1h-2zM255 632h4v1h-4zM259 633h3v1h-3zM262 634h1v1h-1zM263 635h1v1h-1zM264 636h1v1h-1zM265 637h1v2h-1zM266 639h1v1h-1zM267 640h1v1h-1zM268 641h1v1h-1zM269 642h1v1h-1zM270 643h2v1h-2zM272 644h2v1h-2zM274 645h2v1h-2zM276 646h2v1h-2zM278 647h2v1h-2zM280 648h2v1h-2zM282 649h2v1h-2zM284 650h2v1h-2zM286 651h2v1h-2zM288 652h2v1h-2zM290 653h2v1h-2zM292 654h10v1h-10zM302 655h1v1h-1zM303 656h1v2h-1zM304 658h1v1h-1zM305 659h1v1h-1zM306 660h1v1h-1zM307 661h1v2h-1zM308 663h1v1h-1zM309 664h5v1h-5zM314 663h5v1h-5zM319 664h4v1h-4zM323 665h6v1h-6zM329 666h9v1h-9zM338 665h6v1h-6zM344 664h4v1h-4zM348 663h3v1h-3zM351 662h3v1h-3zM354 661h2v1h-2zM356 660h2v1h-2zM358 659h1v1h-1zM359 658h1v1h-1zM360 657h2v1h-2zM362 656h1v1h-1zM363 655h1v1h-1zM364 654h1v1h-1zM365 653h1v1h-1zM366 652h2v1h-2zM368 651h1v1h-1zM369 650h1v1h-1zM370 649h2v1h-2zM372 648h1v1h-1zM373 647h2v1h-2zM375 646h2v1h-2zM377 645h2v1h-2zM379 644h2v1h-2zM381 643h5v1h-5zM386 642h6v1h-6zM392 641h4v1h-4zM396 640h6v1h-6zM402 639h4v1h-4zM406 638h1v1h-1zM407 637h1v1h-1zM408 636h1v1h-1zM409 635h1v1h-1zM410 634h1v1h-1zM411 633h1v1h-1zM412 632h1v1h-1zM413 631h2v1h-2zM415 630h3v1h-3zM418 629h2v1h-2zM420 628h6v1h-6zM426 627h5v1h-5zM431 628h4v1h-4zM435 629h3v1h-3zM438 628h1v1h-1zM439 627h1v1h-1zM440 626h1v1h-1zM441 625h1v1h-1zM442 624h1v1h-1zM443 623h1v1h-1zM444 622h1v1h-1zM445 621h1v1h-1zM446 619h1v2h-1zM447 618h1v1h-1zM448 617h1v1h-1zM449 615h1v2h-1zM450 614h1v1h-1zM451 613h1v1h-1zM452 611h1v2h-1zM453 609h1v2h-1zM454 607h1v2h-1zM455 605h1v2h-1zM456 603h1v2h-1zM457 600h1v3h-1zM458 598h1v2h-1zM459 596h1v2h-1zM460 594h1v2h-1zM461 591h1v3h-1zM462 589h1v2h-1zM463 587h1v2h-1zM464 585h1v2h-1zM465 583h1v2h-1zM466 581h1v2h-1zM467 579h1v2h-1zM468 577h1v2h-1zM469 574h1v3h-1zM470 572h1v2h-1zM471 570h1v2h-1zM472 567h1v3h-1zM473 565h1v2h-1zM474 562h1v3h-1zM475 560h1v2h-1zM476 558h1v2h-1zM477 556h1v2h-1zM478 554h1v2h-1zM479 552h1v2h-1zM480 550h1v2h-1zM481 549h1v1h-1zM482 547h1v2h-1zM483 545h1v2h-1zM484 543h1v2h-1zM485 542h2v1h-2zM487 541h3v1h-3zM490 540h2v1h-2zM492 539h2v1h-2zM494 538h1v1h-1zM495 537h1v1h-1zM496 536h1v1h-1zM497 535h1v1h-1zM498 534h1v1h-1zM499 533h1v1h-1zM500 532h1v1h-1zM501 531h2v1h-2zM503 530h3v1h-3zM506 529h2v1h-2zM508 528h11v1h-11zM519 529h4v1h-4zM523 530h3v1h-3zM526 531h1v1h-1zM527 532h1v1h-1zM528 533h1v1h-1zM529 534h1v1h-1zM530 535h1v1h-1zM531 536h1v1h-1zM532 537h1v1h-1zM533 538h1v1h-1zM534 539h1v2h-1zM535 541h1v2h-1zM536 543h1v1h-1zM537 544h1v2h-1zM538 546h1v1h-1zM539 547h1v2h-1zM540 549h1v2h-1zM541 551h1v1h-1zM542 552h1v2h-1zM543 554h1v2h-1zM544 556h1v2h-1zM545 558h1v2h-1zM546 560h1v2h-1zM547 562h1v2h-1zM548 564h1v2h-1zM549 566h1v1h-1zM550 567h1v2h-1zM551 569h1v2h-1zM552 571h1v2h-1zM553 573h1v2h-1zM554 575h1v2h-1zM555 577h1v2h-1zM556 579h1v2h-1zM557 581h1v3h-1zM558 584h1v2h-1zM559 586h1v2h-1zM560 588h1v3h-1zM561 591h1v2h-1zM562 593h1v3h-1zM563 596h1v2h-1zM564 598h1v2h-1zM565 600h1v2h-1zM566 602h1v1h-1zM567 603h1v1h-1zM568 604h1v1h-1zM569 605h1v2h-1zM570 607h1v1h-1zM571 608h1v1h-1zM572 609h1v1h-1zM573 610h1v1h-1zM574 611h1v1h-1zM575 612h1v1h-1zM576 613h1v1h-1zM577 614h1v2h-1zM578 616h1v1h-1zM579 617h1v1h-1zM580 618h1v1h-1zM581 619h1v1h-1zM582 620h2v1h-2zM584 621h1v1h-1zM585 622h2v1h-2zM587 623h2v1h-2zM589 624h2v1h-2zM591 625h4v1h-4zM595 626h4v1h-4zM599 627h2v1h-2zM601 628h3v1h-3zM604 629h2v1h-2zM606 630h2v1h-2zM608 631h2v1h-2zM610 632h2v1h-2zM612 633h2v1h-2zM614 634h1v1h-1zM615 635h1v1h-1zM616 636h1v1h-1zM617 637h2v1h-2zM619 638h1v1h-1zM620 639h1v1h-1zM621 640h2v1h-2zM623 641h2v1h-2zM625 642h3v1h-3zM628 643h2v1h-2zM630 644h1v2h-1zM631 646h1v1h-1zM632 647h1v2h-1zM633 649h1v1h-1zM634 650h1v2h-1zM635 652h1v1h-1zM636 653h1v2h-1zM637 655h1v1h-1zM638 656h1v2h-1zM639 658h1v2h-1zM640 660h1v1h-1zM641 661h1v2h-1zM642 663h1v1h-1zM643 664h1v2h-1zM644 666h1v2h-1zM645 668h1v1h-1zM646 669h1v2h-1zM647 671h1v2h-1zM648 673h1v2h-1zM649 675h1v1h-1zM650 676h1v2h-1zM651 678h1v2h-1zM652 680h1v2h-1zM653 682h1v1h-1zM654 683h1v1h-1zM655 684h1v2h-1zM656 686h1v1h-1zM657 687h1v1h-1zM658 688h1v1h-1zM659 689h1v2h-1zM660 691h1v1h-1zM661 692h1v1h-1zM662 693h1v1h-1zM663 694h1v1h-1zM664 695h1v1h-1zM665 696h2v1h-2zM667 697h1v1h-1zM668 698h1v1h-1zM669 699h1v1h-1zM670 700h2v1h-2zM672 701h2v1h-2zM674 702h2v1h-2zM676 703h3v1h-3zM679 702h2v1h-2zM681 701h2v1h-2zM683 700h2v1h-2zM685 699h1v1h-1zM686 698h2v1h-2zM688 697h2v1h-2zM690 696h1v1h-1zM691 695h2v1h-2zM693 694h13v1h-13zM706 693h4v1h-4zM710 694h1v1h-1zM711 695h2v1h-2zM713 696h1v1h-1zM714 697h1v1h-1zM715 698h2v1h-2zM717 699h1v1h-1zM718 700h2v1h-2zM720 701h1v1h-1zM721 702h2v1h-2zM723 703h2v1h-2zM725 704h3v1h-3zM728 703h4v1h-4zM732 702h14v1h-14zM746 701h14v1h-14zM760 700h4v1h-4zM764 699h4v1h-4zM768 698h4v1h-4zM772 697h10v1h-10zM782 698h2v1h-2zM784 699h1v1h-1zM785 700h2v1h-2zM787 701h2v1h-2zM789 702h12v1h-12zM801 703h5v1h-5zM806 704h1v1h-1zM807 705h1v2h-1zM808 707h1v1h-1zM809 708h1v1h-1zM810 709h1v1h-1zM811 710h1v2h-1zM812 712h1v1h-1zM813 713h1v1h-1zM814 714h1v1h-1zM815 715h1v1h-1zM816 716h1v1h-1zM817 717h1v1h-1zM818 718h1v1h-1zM819 719h1v1h-1zM820 720h1v1h-1zM821 721h1v1h-1zM822 722h1v1h-1zM823 723h1v2h-1zM824 725h1v1h-1zM825 726h1v1h-1zM826 727h1v1h-1zM827 728h1v2h-1zM828 730h1v1h-1zM829 731h1v1h-1zM830 732h1v2h-1zM831 734h1v2h-1zM832 736h1v2h-1zM833 738h1v2h-1zM834 740h1v2h-1zM835 742h1v2h-1zM836 744h1v2h-1zM837 746h1v2h-1zM838 748h2v1h-2zM840 749h1v1h-1zM841 750h2v1h-2zM843 751h2v1h-2zM845 752h10v1h-10zM855 751h2v1h-2zM857 750h2v1h-2zM859 749h2v1h-2zM861 748h2v1h-2zM863 747h2v1h-2zM865 746h2v1h-2zM867 745h2v1h-2zM869 744h1v1h-1zM870 743h1v1h-1zM871 742h1v1h-1zM872 741h1v1h-1zM873 739h1v2h-1zM874 738h1v1h-1zM875 737h1v1h-1zM876 736h1v1h-1zM877 735h1v1h-1zM878 734h1v1h-1zM879 733h1v1h-1zM880 732h1v1h-1zM881 730h1v2h-1zM882 729h1v1h-1zM883 728h1v1h-1zM884 727h1v1h-1zM885 726h1v1h-1zM886 725h2v1h-2zM888 724h2v1h-2zM890 723h1v1h-1zM891 722h2v1h-2zM893 721h2v1h-2zM895 720h3v1h-3zM898 719h2v1h-2zM900 718h5v1h-5zM905 719h9v1h-9zM914 718h13v1h-13zM927 719h4v1h-4zM931 720h3v1h-3zM934 721h1v1h-1zM935 722h1v1h-1zM936 723h1v1h-1zM937 724h1v1h-1zM938 725h1v1h-1zM939 726h1v1h-1zM940 727h1v1h-1zM941 728h1v1h-1zM942 729h2v1h-2zM944 730h2v1h-2zM946 731h2v1h-2zM948 732h3v1h-3zM951 733h4v1h-4zM955 734h4v1h-4zM959 735h4v1h-4zM963 736h3v1h-3zM966 737h1v1h-1zM967 738h1v1h-1zM968 739h1v1h-1zM969 740h1v1h-1zM970 741h1v1h-1zM971 742h1v1h-1zM972 743h1v1h-1zM973 744h1v1h-1zM974 745h1v1h-1zM975 746h2v1h-2zM977 747h1v1h-1zM978 748h1v1h-1zM979 749h2v1h-2zM981 750h4v1h-4zM985 751h7v1h-7zM992 750h4v1h-4zM996 749h6v1h-6zM1002 748h4v1h-4zM1006 749h1v1h-1zM1007 750h2v1h-2zM1009 751h1v1h-1zM1010 752h1v1h-1zM1011 753h2v1h-2zM1013 754h3v1h-3zM1016 753h4v1h-4zM1020 752h2v1h-2zM1022 751h1v1h-1zM1023 750h1v1h-1zM1024 749h2v1h-2zM1026 748h1v1h-1zM1027 747h1v1h-1zM1028 746h1v1h-1zM1029 745h1v1h-1zM1030 744h1v1h-1zM1031 743h1v1h-1zM1032 742h1v1h-1zM1033 741h1v1h-1zM1034 740h1v1h-1zM1035 739h1v1h-1zM1036 738h1v1h-1zM1037 737h1v1h-1zM1038 736h1v1h-1zM1039 735h1v1h-1zM1040 734h2v1h-2zM1042 733h1v1h-1zM1043 732h1v1h-1zM1044 731h1v1h-1zM1045 730h4v1h-4zM1049 731h6v1h-6zM1055 730h2v1h-2zM1057 729h2v1h-2zM1059 728h2v1h-2zM1061 727h1v1h-1zM1062 726h1v1h-1zM1063 725h1v1h-1zM1064 724h1v1h-1zM1065 722h1v2h-1zM1066 721h1v1h-1zM1067 720h1v1h-1zM1068 719h1v1h-1zM1069 718h1v1h-1zM1070 717h1v1h-1zM1071 715h1v2h-1zM1072 714h1v1h-1zM1073 713h1v1h-1zM1074 712h1v1h-1zM1075 710h1v2h-1zM1076 709h1v1h-1zM1077 708h1v1h-1zM1078 707h1v1h-1zM1079 706h1v1h-1zM1080 705h1v1h-1zM1081 703h1v2h-1zM1082 702h1v1h-1zM1083 701h1v1h-1zM1084 700h1v1h-1zM1085 699h1v1h-1zM1086 697h1v2h-1zM1087 696h1v1h-1zM1088 695h1v1h-1zM1089 693h1v2h-1zM1090 692h1v1h-1zM1091 691h1v1h-1zM1092 689h1v2h-1zM1093 688h1v1h-1zM1094 687h1v1h-1zM1095 686h1v1h-1zM1096 685h2v1h-2zM1098 684h1v1h-1zM1099 683h1v1h-1zM1100 682h1v1h-1zM1101 681h1v1h-1zM1102 680h1v1h-1zM1103 679h1v1h-1zM1104 678h1v1h-1zM1105 676h1v2h-1zM1106 675h1v1h-1zM1107 674h1v1h-1zM1108 673h1v1h-1zM1109 672h1v1h-1zM1110 671h2v1h-2zM1112 670h1v1h-1zM1113 669h1v1h-1zM1114 668h2v1h-2zM1116 667h1v1h-1zM1117 666h1v1h-1zM1118 664h1v2h-1zM1119 663h1v1h-1zM1120 661h1v2h-1zM1121 660h1v1h-1zM1122 658h1v2h-1zM1123 657h1v1h-1zM1124 655h1v2h-1zM1125 653h1v2h-1zM1126 651h1v2h-1zM1127 649h1v2h-1zM1128 647h1v2h-1zM1129 644h1v3h-1zM1130 642h1v2h-1zM1131 640h1v2h-1zM1132 638h1v2h-1zM1133 636h1v2h-1zM1134 635h1v1h-1zM1135 633h1v2h-1zM1136 632h1v1h-1zM1137 631h1v1h-1zM1138 630h1v1h-1zM1139 628h1v2h-1zM1140 627h1v1h-1zM1141 626h1v1h-1zM1142 625h1v1h-1zM1143 624h1v1h-1zM1144 623h1v1h-1zM1145 622h1v1h-1zM1146 621h1v1h-1zM1147 620h1v1h-1zM1148 619h1v1h-1zM1149 618h2v1h-2zM1151 617h2v1h-2zM1153 616h2v1h-2zM1155 615h2v1h-2zM1157 614h2v1h-2zM1159 613h2v1h-2zM1161 612h2v1h-2zM1163 611h2v1h-2zM1165 610h2v1h-2zM1167 611h4v1h-4zM1171 612h3v1h-3zM1174 613h1v1h-1zM1175 614h2v1h-2zM1177 615h1v1h-1zM1178 616h1v1h-1zM1179 617h2v1h-2zM1181 618h1v1h-1zM1182 619h1v2h-1zM1183 621h1v1h-1zM1184 622h1v1h-1zM1185 623h1v2h-1zM1186 625h1v1h-1zM1187 626h1v1h-1zM1188 627h1v2h-1zM1189 629h1v2h-1zM1190 631h1v2h-1zM1191 633h1v2h-1zM1192 635h1v2h-1zM1193 637h1v2h-1zM1194 639h1v2h-1zM1195 641h1v2h-1zM1196 643h1v2h-1zM1197 645h1v2h-1zM1198 647h2v1h-2zM1200 648h1v1h-1zM1201 649h2v1h-2zM1203 650h2v1h-2zM1205 651h1v1h-1zM1206 652h1v1h-1zM1207 653h1v1h-1zM1208 654h1v1h-1zM1209 655h1v1h-1zM1210 656h1v1h-1zM1211 657h1v1h-1zM1212 658h1v1h-1zM1213 659h1v2h-1zM1214 661h1v2h-1zM1215 663h1v2h-1zM1216 665h1v2h-1zM1217 667h1v3h-1zM1218 670h1v2h-1zM1219 672h1v2h-1zM1220 674h1v2h-1zM1221 676h1v2h-1zM1222 678h1v2h-1zM1223 680h1v2h-1zM1224 682h1v2h-1zM1225 684h1v2h-1zM1226 686h1v2h-1zM1227 688h1v2h-1zM1228 690h1v2h-1zM1229 692h1v1h-1zM1230 693h1v1h-1zM1231 694h2v1h-2zM1233 695h1v1h-1zM1234 696h1v1h-1zM1235 697h2v1h-2zM1237 698h2v1h-2zM1239 699h4v1h-4zM1243 700h6v1h-6zM1249 701h7v1h-7zM1256 700h4v1h-4zM1260 699h2v1h-2zM1262 698h2v1h-2zM1264 697h2v1h-2zM1266 696h1v1h-1zM1267 695h2v1h-2zM1269 694h4v1h-4zM1273 695h14v1h-14zM1287 696h2v1h-2zM1289 697h3v1h-3zM1292 698h2v1h-2zM1294 699h1v2h-1zM1295 701h1v2h-1zM1296 703h1v2h-1zM1297 705h1v2h-1zM1298 707h1v2h-1zM1299 709h1v2h-1zM1300 711h1v2h-1zM1301 713h1v1h-1zM1302 714h1v1h-1zM1303 715h1v2h-1zM1304 717h1v1h-1zM1305 718h1v1h-1zM1306 719h1v1h-1zM1307 720h1v2h-1zM1308 722h1v1h-1zM1309 723h1v1h-1zM1310 724h2v1h-2zM1312 725h1v1h-1zM1313 726h2v1h-2zM1315 727h2v1h-2zM1317 728h10v1h-10zM1327 729h2v1h-2zM1329 730h3v1h-3zM1332 731h2v1h-2zM1334 732h1v1h-1zM1335 733h1v1h-1zM1336 734h1v1h-1zM1337 735h2v1h-2zM1339 736h1v1h-1zM1340 737h1v1h-1zM1341 738h1v1h-1zM1342 739h2v1h-2zM1344 740h1v1h-1zM1345 741h2v1h-2zM1347 742h2v1h-2zM1349 743h1v1h-1zM1350 744h2v1h-2zM1352 745h2v1h-2zM1354 746h2v1h-2zM1356 747h2v1h-2zM1358 748h2v1h-2zM1360 749h2v1h-2zM1362 750h2v1h-2zM1364 751h2v1h-2zM1366 752h2v1h-2zM1368 753h2v1h-2zM1370 754h2v1h-2zM1372 755h5v1h-5zM1377 756h8v1h-8zM1385 757h5v1h-5zM1390 756h1v1h-1zM1391 755h1v1h-1zM1392 754h1v1h-1zM1393 752h1v2h-1zM1394 751h1v1h-1zM1395 750h1v1h-1zM1396 749h1v1h-1zM1397 748h1v1h-1zM1398 746h1v2h-1zM1399 744h1v2h-1zM1400 742h1v2h-1zM1401 741h1v1h-1zM1402 739h1v2h-1zM1403 737h1v2h-1zM1404 735h1v2h-1zM1405 734h1v1h-1zM1406 733h1v1h-1zM1407 731h1v2h-1zM1408 730h1v1h-1zM1409 729h1v1h-1zM1410 728h1v1h-1zM1411 726h1v2h-1zM1412 725h1v1h-1zM1413 724h1v1h-1zM1414 723h1v1h-1zM1415 722h1v1h-1zM1416 721h1v1h-1zM1417 719h1v2h-1zM1418 718h1v1h-1zM1419 717h1v1h-1zM1420 716h1v1h-1zM1421 715h1v1h-1zM1422 714h1v1h-1zM1423 713h1v1h-1zM1424 712h1v1h-1zM1425 710h1v2h-1zM1426 709h1v1h-1zM1427 708h1v1h-1zM1428 707h1v1h-1zM1429 706h1v1h-1zM1430 705h1v1h-1zM1431 703h1v2h-1zM1432 702h1v1h-1zM1433 701h1v1h-1zM1434 700h1v1h-1zM1435 698h1v2h-1zM1436 697h1v1h-1zM1437 696h1v1h-1zM1438 695h1v1h-1zM1439 694h1v1h-1zM1440 693h1v1h-1zM1441 691h1v2h-1zM1442 690h1v1h-1zM1443 689h1v1h-1zM1444 688h1v1h-1zM1445 687h1v1h-1zM1446 686h1v1h-1zM1447 685h1v1h-1zM1448 684h1v1h-1zM1449 682h1v2h-1zM1450 681h1v1h-1zM1451 680h1v1h-1zM1452 679h1v1h-1zM1453 678h11v1h-11zM1464 677h4v1h-4zM1468 676h5v1h-5zM1473 677h6v1h-6zM1479 676h3v1h-3zM1482 675h2v1h-2zM1484 674h2v1h-2z"/><path fill="#ff0000" d="M5 667h5v1h-5zM5 668h13v1h-13zM9 669h15v1h-15zM17 670h11v1h-11zM23 671h9v1h-9zM27 672h7v1h-7zM31 673h6v1h-6zM33 674h6v1h-6zM36 675h5v1h-5zM38 676h5v1h-5zM40 677h5v1h-5zM42 678h5v1h-5zM44 679h5v1h-5zM46 680h4v1h-4zM48 681h4v1h-4zM49 682h5v1h-5zM51 683h4v1h-4zM53 684h4v1h-4zM54 685h4v1h-4zM56 686h4v1h-4zM57 687h5v1h-5zM59 688h4v1h-4zM61 689h4v1h-4zM62 690h4v1h-4zM64 691h4v1h-4zM65 692h5v1h-5zM67 693h4v1h-4zM69 694h4v1h-4zM70 695h4v1h-4zM72 696h4v1h-4zM73 697h5v1h-5zM75 698h4v1h-4zM77 699h4v1h-4zM78 700h4v1h-4zM80 701h4v1h-4zM81 702h5v1h-5zM83 703h5v1h-5zM85 704h7v1h-7zM87 705h22v1h-22zM91 706h14v1h-14zM104 704h8v1h-8zM108 703h7v1h-7zM111 702h6v1h-6zM114 701h6v1h-6zM116 700h6v1h-6zM119 699h5v1h-5zM121 698h5v1h-5zM123 697h5v1h-5zM125 696h5v1h-5zM127 695h5v1h-5zM129 694h5v1h-5zM131 693h4v1h-4zM133 692h4v1h-4zM134 691h5v1h-5zM136 690h4v1h-4zM138 689h4v1h-4zM139 688h4v1h-4zM141 687h4v1h-4zM142 686h4v1h-4zM144 685h3v1h-3zM145 684h4v1h-4zM146 683h4v1h-4zM148 682h3v1h-3zM149 681h3v1h-3zM150 680h3v1h-3zM151 679h4v1h-4zM152 678h4v1h-4zM154 677h3v1h-3zM155 676h3v1h-3zM156 675h3v1h-3zM157 674h4v1h-4zM158 673h5v1h-5zM160 672h4v1h-4zM162 671h4v1h-4zM163 670h5v1h-5zM165 669h5v1h-5zM167 668h5v1h-5zM169 667h5v1h-5zM171 666h5v1h-5zM173 665h6v1h-6zM175 664h6v1h-6zM178 663h7v1h-7zM180 662h9v1h-9zM184 661h9v1h-9zM188 660h9v1h-9zM192 659h8v1h-8zM196 658h7v1h-7zM199 657h6v1h-6zM202 656h6v1h-6zM204 655h7v1h-7zM207 654h6v1h-6zM210 653h6v1h-6zM212 652h7v1h-7zM215 651h6v1h-6zM218 650h6v1h-6zM220 649h7v1h-7zM223 648h6v1h-6zM226 647h6v1h-6zM228 646h6v1h-6zM231 645h5v1h-5zM233 644h5v1h-5zM235 643h5v1h-5zM237 642h6v1h-6zM239 641h6v1h-6zM242 640h6v1h-6zM244 639h6v1h-6zM247 638h5v1h-5zM249 637h5v1h-5zM251 636h5v1h-5zM253 635h6v1h-6zM255 634h6v1h-6zM258 633h24v1h-24zM260 632h20v1h-20zM279 634h6v1h-6zM281 635h7v1h-7zM284 636h6v1h-6zM287 637h6v1h-6zM289 638h7v1h-7zM292 639h8v1h-8zM295 640h9v1h-9zM299 641h7v1h-7zM303 642h6v1h-6zM305 643h6v1h-6zM308 644h4v1h-4zM310 645h4v1h-4zM311 646h4v1h-4zM313 647h3v1h-3zM314 648h4v1h-4zM315 649h5v1h-5zM317 650h5v1h-5zM319 651h6v1h-6zM321 652h7v1h-7zM324 653h6v1h-6zM327 654h6v1h-6zM329 655h6v1h-6zM332 656h5v1h-5zM334 657h5v1h-5zM336 658h5v1h-5zM338 659h8v1h-8zM340 660h14v1h-14zM345 661h32v1h-32zM353 662h18v1h-18zM370 660h11v1h-11zM376 659h8v1h-8zM380 658h7v1h-7zM383 657h6v1h-6zM386 656h7v1h-7zM388 655h9v1h-9zM392 654h8v1h-8zM396 653h7v1h-7zM399 652h6v1h-6zM402 651h6v1h-6zM404 650h6v1h-6zM407 649h5v1h-5zM409 648h5v1h-5zM411 647h4v1h-4zM413 646h4v1h-4zM414 645h5v1h-5zM416 644h4v1h-4zM418 643h4v1h-4zM419 642h5v1h-5zM421 641h6v1h-6zM423 640h6v1h-6zM426 639h6v1h-6zM428 638h7v1h-7zM431 637h6v1h-6zM434 636h6v1h-6zM436 635h7v1h-7zM439 634h6v1h-6zM442 633h6v1h-6zM444 632h7v1h-7zM447 631h6v1h-6zM450 630h5v1h-5zM452 629h5v1h-5zM454 628h5v1h-5zM456 627h4v1h-4zM458 626h4v1h-4zM459 625h4v1h-4zM461 624h3v1h-3zM462 623h3v1h-3zM463 622h4v1h-4zM464 621h4v1h-4zM466 620h3v1h-3zM467 619h3v1h-3zM468 618h3v1h-3zM469 617h3v1h-3zM470 616h3v1h-3zM471 615h3v1h-3zM472 614h3v1h-3zM473 612h3v1h-3zM473 613h2v1h-2zM474 611h3v1h-3zM475 610h3v1h-3zM476 609h3v1h-3zM477 608h3v1h-3zM478 607h3v1h-3zM479 605h3v1h-3zM479 606h2v1h-2zM480 604h3v1h-3zM481 603h3v1h-3zM482 602h3v1h-3zM483 600h3v1h-3zM483 601h2v1h-2zM484 599h3v1h-3zM485 598h3v1h-3zM486 596h3v1h-3zM486 597h2v1h-2zM487 595h3v1h-3zM488 594h3v1h-3zM489 592h3v1h-3zM489 593h2v1h-2zM490 591h3v1h-3zM491 590h3v1h-3zM492 588h3v1h-3zM492 589h2v1h-2zM493 587h3v1h-3zM494 585h3v1h-3zM494 586h2v1h-2zM495 584h3v1h-3zM496 583h3v1h-3zM497 581h3v1h-3zM497 582h2v1h-2zM498 580h3v1h-3zM499 579h3v1h-3zM500 577h3v1h-3zM500 578h2v1h-2zM501 576h3v1h-3zM502 574h3v1h-3zM502 575h2v1h-2zM503 573h3v1h-3zM504 572h3v1h-3zM505 570h3v1h-3zM505 571h2v1h-2zM506 569h3v1h-3zM507 568h3v1h-3zM508 566h3v1h-3zM508 567h2v1h-2zM509 565h3v1h-3zM510 564h3v1h-3zM511 562h3v1h-3zM511 563h2v1h-2zM512 561h3v1h-3zM513 560h3v1h-3zM514 559h3v1h-3zM515 557h3v1h-3zM515 558h2v1h-2zM516 556h3v1h-3zM517 555h3v1h-3zM518 554h3v1h-3zM519 553h3v1h-3zM520 552h3v1h-3zM521 550h3v1h-3zM521 551h2v1h-2zM522 549h3v1h-3zM523 548h3v1h-3zM524 547h3v1h-3zM525 546h4v1h-4zM526 545h5v1h-5zM528 544h4v1h-4zM530 543h4v1h-4zM531 542h6v1h-6zM533 541h8v1h-8zM536 540h15v1h-15zM540 539h6v1h-6zM545 541h8v1h-8zM550 542h5v1h-5zM552 543h5v1h-5zM554 544h5v1h-5zM556 545h4v1h-4zM558 546h4v1h-4zM559 547h4v1h-4zM561 548h3v1h-3zM562 549h4v1h-4zM563 550h4v1h-4zM565 551h3v1h-3zM566 552h3v1h-3zM567 553h3v1h-3zM568 554h3v1h-3zM569 555h2v1h-2zM569 556h3v1h-3zM570 557h3v1h-3zM571 558h3v1h-3zM572 559h3v1h-3zM573 560h3v1h-3zM574 561h2v1h-2zM574 562h3v1h-3zM575 563h3v1h-3zM576 564h3v1h-3zM577 565h2v1h-2zM577 566h3v1h-3zM578 567h3v1h-3zM579 568h3v1h-3zM580 569h2v1h-2zM580 570h3v1h-3zM581 571h3v1h-3zM582 572h2v1h-2zM582 573h3v1h-3zM583 574h3v1h-3zM584 575h3v1h-3zM585 576h2v1h-2zM585 577h3v1h-3zM586 578h3v1h-3zM587 579h3v1h-3zM588 580h2v1h-2zM588 581h3v1h-3zM589 582h3v1h-3zM590 583h3v1h-3zM591 584h2v1h-2zM591 585h3v1h-3zM592 586h3v1h-3zM593 587h3v1h-3zM594 588h3v1h-3zM595 589h2v1h-2zM595 590h3v1h-3zM596 591h3v1h-3zM597 592h3v1h-3zM598 593h3v1h-3zM599 594h2v1h-2zM599 595h3v1h-3zM600 596h3v1h-3zM601 597h3v1h-3zM602 598h3v1h-3zM603 599h2v1h-2zM603 600h3v1h-3zM604 601h3v1h-3zM605 602h3v1h-3zM606 603h3v1h-3zM607 604h3v1h-3zM608 605h3v1h-3zM609 606h2v1h-2zM609 607h3v1h-3zM610 608h3v1h-3zM611 609h3v1h-3zM612 610h3v1h-3zM613 611h3v1h-3zM614 612h3v1h-3zM615 613h3v1h-3zM616 614h3v1h-3zM617 615h3v1h-3zM618 616h3v1h-3zM619 617h3v1h-3zM620 618h3v1h-3zM621 619h3v1h-3zM622 620h3v1h-3zM623 621h3v1h-3zM624 622h4v1h-4zM625 623h4v1h-4zM627 624h3v1h-3zM628 625h3v1h-3zM629 626h3v1h-3zM630 627h3v1h-3zM631 628h3v1h-3zM632 629h4v1h-4zM633 630h4v1h-4zM635 631h3v1h-3zM636 632h3v1h-3zM637 633h3v1h-3zM638 634h4v1h-4zM639 635h4v1h-4zM641 636h3v1h-3zM642 637h4v1h-4zM643 638h4v1h-4zM645 639h3v1h-3zM646 640h4v1h-4zM647 641h4v1h-4zM649 642h3v1h-3zM650 643h4v1h-4zM651 644h4v1h-4zM653 645h3v1h-3zM654 646h3v1h-3zM655 647h3v1h-3zM656 648h4v1h-4zM657 649h4v1h-4zM659 650h3v1h-3zM660 651h3v1h-3zM661 652h3v1h-3zM662 653h3v1h-3zM663 654h3v1h-3zM664 655h3v1h-3zM665 656h2v1h-2zM665 657h3v1h-3zM666 658h3v1h-3zM667 659h3v1h-3zM668 660h3v1h-3zM669 661h3v1h-3zM670 662h3v1h-3zM671 663h3v1h-3zM672 664h4v1h-4zM673 665h4v1h-4zM675 666h3v1h-3zM676 667h3v1h-3zM677 668h3v1h-3zM678 669h3v1h-3zM679 670h3v1h-3zM680 671h3v1h-3zM681 672h3v1h-3zM682 673h3v1h-3zM683 674h3v1h-3zM684 675h3v1h-3zM685 676h3v1h-3zM686 677h4v1h-4zM687 678h4v1h-4zM689 679h3v1h-3zM690 680h4v1h-4zM691 681h4v1h-4zM693 682h3v1h-3zM694 683h4v1h-4zM695 684h4v1h-4zM697 685h3v1h-3zM698 686h4v1h-4zM699 687h4v1h-4zM701 688h4v1h-4zM702 689h5v1h-5zM704 690h5v1h-5zM706 691h5v1h-5zM708 692h5v1h-5zM710 693h5v1h-5zM712 694h5v1h-5zM714 695h6v1h-6zM716 696h6v1h-6zM719 697h6v1h-6zM721 698h41v1h-41zM724 699h84v1h-84zM761 700h51v1h-51zM807 701h9v1h-9zM811 702h9v1h-9zM815 703h9v1h-9zM819 704h7v1h-7zM823 705h6v1h-6zM825 706h6v1h-6zM828 707h4v1h-4zM830 708h4v1h-4zM831 709h4v1h-4zM833 710h3v1h-3zM834 711h4v1h-4zM835 712h4v1h-4zM837 713h3v1h-3zM838 714h4v1h-4zM839 715h4v1h-4zM841 716h3v1h-3zM842 717h4v1h-4zM843 718h4v1h-4zM845 719h3v1h-3zM846 720h4v1h-4zM847 721h4v1h-4zM849 722h3v1h-3zM850 723h4v1h-4zM851 724h4v1h-4zM853 725h3v1h-3zM854 726h4v1h-4zM855 727h4v1h-4zM857 728h3v1h-3zM858 729h4v1h-4zM859 730h4v1h-4zM861 731h4v1h-4zM862 732h4v1h-4zM864 733h4v1h-4zM865 734h5v1h-5zM867 735h5v1h-5zM869 736h5v1h-5zM871 737h6v1h-6zM873 738h9v1h-9zM876 739h25v1h-25zM881 740h16v1h-16zM896 738h8v1h-8zM900 737h7v1h-7zM903 736h6v1h-6zM906 735h6v1h-6zM908 734h7v1h-7zM911 733h6v1h-6zM914 732h6v1h-6zM916 731h7v1h-7zM919 730h6v1h-6zM922 729h6v1h-6zM924 728h6v1h-6zM927 727h5v1h-5zM929 726h5v1h-5zM931 725h6v1h-6zM933 724h8v1h-8zM936 723h24v1h-24zM940 722h14v1h-14zM953 724h11v1h-11zM959 725h9v1h-9zM963 726h7v1h-7zM967 727h6v1h-6zM969 728h7v1h-7zM972 729h6v1h-6zM975 730h6v1h-6zM977 731h7v1h-7zM980 732h6v1h-6zM983 733h6v1h-6zM985 734h6v1h-6zM988 735h5v1h-5zM990 736h5v1h-5zM992 737h5v1h-5zM994 738h6v1h-6zM996 739h8v1h-8zM999 740h9v1h-9zM1003 741h7v1h-7zM1007 742h6v1h-6zM1009 743h7v1h-7zM1012 744h6v1h-6zM1015 745h6v1h-6zM1017 746h9v1h-9zM1020 747h25v1h-25zM1025 748h16v1h-16zM1040 746h9v1h-9zM1044 745h9v1h-9zM1048 744h9v1h-9zM1052 743h9v1h-9zM1056 742h8v1h-8zM1060 741h7v1h-7zM1063 740h6v1h-6zM1066 739h5v1h-5zM1068 738h5v1h-5zM1070 737h5v1h-5zM1072 736h4v1h-4zM1074 735h4v1h-4zM1075 734h4v1h-4zM1077 733h3v1h-3zM1078 732h3v1h-3zM1079 731h4v1h-4zM1080 730h4v1h-4zM1082 729h3v1h-3zM1083 728h3v1h-3zM1084 727h3v1h-3zM1085 726h3v1h-3zM1086 725h3v1h-3zM1087 724h4v1h-4zM1088 723h4v1h-4zM1090 722h3v1h-3zM1091 721h3v1h-3zM1092 720h3v1h-3zM1093 719h3v1h-3zM1094 718h3v1h-3zM1095 717h3v1h-3zM1096 716h3v1h-3zM1097 715h3v1h-3zM1098 714h3v1h-3zM1099 713h3v1h-3zM1100 712h3v1h-3zM1101 711h3v1h-3zM1102 710h3v1h-3zM1103 709h4v1h-4zM1104 708h4v1h-4zM1106 707h3v1h-3zM1107 706h3v1h-3zM1108 705h3v1h-3zM1109 704h4v1h-4zM1110 703h4v1h-4zM1112 702h3v1h-3zM1113 701h4v1h-4zM1114 700h4v1h-4zM1116 699h3v1h-3zM1117 698h3v1h-3zM1118 697h3v1h-3zM1119 696h3v1h-3zM1120 695h3v1h-3zM1121 693h3v1h-3zM1121 694h2v1h-2zM1122 692h3v1h-3zM1123 691h3v1h-3zM1124 690h3v1h-3zM1125 689h3v1h-3zM1126 688h3v1h-3zM1127 686h3v1h-3zM1127 687h2v1h-2zM1128 685h3v1h-3zM1129 684h3v1h-3zM1130 683h3v1h-3zM1131 681h3v1h-3zM1131 682h2v1h-2zM1132 680h3v1h-3zM1133 679h3v1h-3zM1134 678h3v1h-3zM1135 676h3v1h-3zM1135 677h2v1h-2zM1136 675h3v1h-3zM1137 674h3v1h-3zM1138 673h3v1h-3zM1139 671h3v1h-3zM1139 672h2v1h-2zM1140 670h3v1h-3zM1141 669h3v1h-3zM1142 668h3v1h-3zM1143 666h3v1h-3zM1143 667h2v1h-2zM1144 665h3v1h-3zM1145 664h3v1h-3zM1146 663h3v1h-3zM1147 661h3v1h-3zM1147 662h2v1h-2zM1148 660h3v1h-3zM1149 659h3v1h-3zM1150 658h3v1h-3zM1151 656h3v1h-3zM1151 657h2v1h-2zM1152 655h3v1h-3zM1153 654h3v1h-3zM1154 653h3v1h-3zM1155 651h3v1h-3zM1155 652h2v1h-2zM1156 650h3v1h-3zM1157 649h3v1h-3zM1158 648h3v1h-3zM1159 646h3v1h-3zM1159 647h2v1h-2zM1160 645h3v1h-3zM1161 644h3v1h-3zM1162 643h3v1h-3zM1163 641h3v1h-3zM1163 642h2v1h-2zM1164 640h3v1h-3zM1165 639h3v1h-3zM1166 638h3v1h-3zM1167 637h4v1h-4zM1168 636h4v1h-4zM1170 635h3v1h-3zM1171 634h3v1h-3zM1172 633h3v1h-3zM1173 632h4v1h-4zM1174 631h5v1h-5zM1176 630h4v1h-4zM1178 629h4v1h-4zM1179 628h5v1h-5zM1181 627h6v1h-6zM1183 626h6v1h-6zM1186 625h21v1h-21zM1188 624h14v1h-14zM1201 626h8v1h-8zM1206 627h5v1h-5zM1208 628h5v1h-5zM1210 629h5v1h-5zM1212 630h4v1h-4zM1214 631h4v1h-4zM1215 632h4v1h-4zM1217 633h3v1h-3zM1218 634h4v1h-4zM1219 635h4v1h-4zM1221 636h3v1h-3zM1222 637h3v1h-3zM1223 638h3v1h-3zM1224 639h3v1h-3zM1225 640h2v1h-2zM1225 641h3v1h-3zM1226 642h3v1h-3zM1227 643h3v1h-3zM1228 644h3v1h-3zM1229 645h3v1h-3zM1230 646h3v1h-3zM1231 647h3v1h-3zM1232 648h3v1h-3zM1233 649h2v1h-2zM1233 650h3v1h-3zM1234 651h3v1h-3zM1235 652h3v1h-3zM1236 653h3v1h-3zM1237 654h3v1h-3zM1238 655h3v1h-3zM1239 656h2v1h-2zM1239 657h3v1h-3zM1240 658h3v1h-3zM1241 659h3v1h-3zM1242 660h3v1h-3zM1243 661h2v1h-2zM1243 662h3v1h-3zM1244 663h3v1h-3zM1245 664h3v1h-3zM1246 665h3v1h-3zM1247 666h3v1h-3zM1248 667h3v1h-3zM1249 668h2v1h-2zM1249 669h3v1h-3zM1250 670h3v1h-3zM1251 671h3v1h-3zM1252 672h3v1h-3zM1253 673h3v1h-3zM1254 674h3v1h-3zM1255 675h3v1h-3zM1256 676h3v1h-3zM1257 677h3v1h-3zM1258 678h3v1h-3zM1259 679h3v1h-3zM1260 680h3v1h-3zM1261 681h4v1h-4zM1262 682h4v1h-4zM1264 683h4v1h-4zM1265 684h5v1h-5zM1267 685h4v1h-4zM1269 686h4v1h-4zM1270 687h4v1h-4zM1272 688h4v1h-4zM1273 689h5v1h-5zM1275 690h4v1h-4zM1277 691h4v1h-4zM1278 692h5v1h-5zM1280 693h5v1h-5zM1282 694h6v1h-6zM1284 695h6v1h-6zM1287 696h6v1h-6zM1289 697h9v1h-9zM1292 698h12v1h-12zM1297 699h9v1h-9zM1303 700h6v1h-6zM1305 701h7v1h-7zM1308 702h6v1h-6zM1311 703h6v1h-6zM1313 704h7v1h-7zM1316 705h6v1h-6zM1319 706h6v1h-6zM1321 707h7v1h-7zM1324 708h6v1h-6zM1327 709h6v1h-6zM1329 710h6v1h-6zM1332 711h4v1h-4zM1334 712h4v1h-4zM1335 713h4v1h-4zM1337 714h3v1h-3zM1338 715h4v1h-4zM1339 716h4v1h-4zM1341 717h3v1h-3zM1342 718h4v1h-4zM1343 719h4v1h-4zM1345 720h3v1h-3zM1346 721h4v1h-4zM1347 722h4v1h-4zM1349 723h4v1h-4zM1350 724h4v1h-4zM1352 725h4v1h-4zM1353 726h5v1h-5zM1355 727h4v1h-4zM1357 728h3v1h-3zM1358 729h4v1h-4zM1359 730h4v1h-4zM1361 731h3v1h-3zM1362 732h4v1h-4zM1363 733h4v1h-4zM1365 734h4v1h-4zM1366 735h4v1h-4zM1368 736h4v1h-4zM1369 737h5v1h-5zM1371 738h4v1h-4zM1373 739h4v1h-4zM1374 740h5v1h-5zM1376 741h5v1h-5zM1378 742h6v1h-6zM1380 743h6v1h-6zM1383 744h6v1h-6zM1385 745h7v1h-7zM1388 746h8v1h-8zM1391 747h22v1h-22zM1395 748h14v1h-14zM1408 746h8v1h-8zM1412 745h7v1h-7zM1415 744h6v1h-6zM1418 743h6v1h-6zM1420 742h6v1h-6zM1423 741h5v1h-5zM1425 740h5v1h-5zM1427 739h4v1h-4zM1429 738h4v1h-4zM1430 737h5v1h-5zM1432 736h4v1h-4zM1434 735h4v1h-4zM1435 734h4v1h-4zM1437 733h3v1h-3zM1438 732h3v1h-3zM1439 731h4v1h-4zM1440 730h4v1h-4zM1442 729h3v1h-3zM1443 728h3v1h-3zM1444 727h3v1h-3zM1445 726h3v1h-3zM1446 725h3v1h-3zM1447 724h3v1h-3zM1448 723h3v1h-3zM1449 721h3v1h-3zM1449 722h2v1h-2zM1450 720h3v1h-3zM1451 719h3v1h-3zM1452 718h3v1h-3zM1453 717h3v1h-3zM1454 716h3v1h-3zM1455 715h4v1h-4zM1456 714h4v1h-4zM1458 713h3v1h-3zM1459 712h3v1h-3zM1460 711h3v1h-3zM1461 710h3v1h-3zM1462 709h3v1h-3zM1463 708h3v1h-3zM1464 707h3v1h-3zM1465 706h3v1h-3zM1466 705h3v1h-3zM1467 704h3v1h-3zM1468 703h3v1h-3zM1469 702h3v1h-3zM1470 701h3v1h-3zM1471 700h3v1h-3zM1472 699h3v1h-3zM1473 698h3v1h-3zM1474 697h3v1h-3zM1475 696h3v1h-3zM1476 695h3v1h-3zM1477 694h4v1h-4zM1478 693h4v1h-4zM1480 692h3v1h-3zM1481 691h4v1h-4zM1482 690h4v1h-4zM1484 689h3v1h-3zM1485 688h2v1h-2z"/>
<g id="plabels"><text transform="translate(1878,19) scale(0.935,1)" xml:space="preserve">158.050</text><text transform="translate(1878,52) scale(0.935,1)" xml:space="preserve">157.690</text><text transform="translate(1878,85) scale(0.935,1)" xml:space="preserve">157.340</text><text transform="translate(1878,118) scale(0.935,1)" xml:space="preserve">156.980</text><text transform="translate(1878,151) scale(0.935,1)" xml:space="preserve">156.620</text><text transform="translate(1878,184) scale(0.935,1)" xml:space="preserve">156.270</text><text transform="translate(1878,217) scale(0.935,1)" xml:space="preserve">155.910</text><text transform="translate(1878,250) scale(0.935,1)" xml:space="preserve">155.550</text><text transform="translate(1878,283) scale(0.935,1)" xml:space="preserve">155.200</text><text transform="translate(1878,316) scale(0.935,1)" xml:space="preserve">154.850</text><text transform="translate(1878,349) scale(0.935,1)" xml:space="preserve">154.490</text><text transform="translate(1878,382) scale(0.935,1)" xml:space="preserve">154.130</text><text transform="translate(1878,415) scale(0.935,1)" xml:space="preserve">153.770</text><text transform="translate(1878,448) scale(0.935,1)" xml:space="preserve">153.420</text><text transform="translate(1878,481) scale(0.935,1)" xml:space="preserve">153.060</text><text transform="translate(1878,514) scale(0.935,1)" xml:space="preserve">152.710</text><rect x="1874" y="136" width="37" height="11" fill="#ff0000"/><text class="w" transform="translate(1878,146) scale(0.935,1)" xml:space="preserve">156.675</text><rect x="1874" y="185" width="37" height="11" fill="#ff0000"/><text class="w" transform="translate(1878,195) scale(0.935,1)" xml:space="preserve">156.147</text><rect x="1874" y="262" width="37" height="11" fill="#ff0000"/><text class="w" transform="translate(1878,272) scale(0.935,1)" xml:space="preserve">155.318</text><rect x="1874" y="309" width="37" height="11" fill="#ff0000"/><text class="w" transform="translate(1878,319) scale(0.935,1)" xml:space="preserve">154.812</text><rect x="1874" y="222" width="37" height="11" fill="#000"/><text class="w" transform="translate(1878,231) scale(0.935,1)" xml:space="preserve">155.755</text><text transform="translate(1876,526) scale(0.935,1)" xml:space="preserve">0.7996</text><text transform="translate(1876,695) scale(0.935,1)" xml:space="preserve">0.00</text><text transform="translate(1876,766) scale(0.935,1)" xml:space="preserve">-0.3532</text></g>
<g id="tlabels"><text transform="translate(4,782) scale(0.963,1)" xml:space="preserve">6 Nov 2025</text><text transform="translate(68,782) scale(0.963,1)" xml:space="preserve">7 Nov 12:00</text><text transform="translate(132,782) scale(0.963,1)" xml:space="preserve">10 Nov 20:00</text><text transform="translate(196,782) scale(0.963,1)" xml:space="preserve">12 Nov 04:00</text><text transform="translate(260,782) scale(0.963,1)" xml:space="preserve">13 Nov 12:00</text><text transform="translate(324,782) scale(0.963,1)" xml:space="preserve">14 Nov 20:00</text><text transform="translate(388,782) scale(0.963,1)" xml:space="preserve">18 Nov 04:00</text><text transform="translate(452,782) scale(0.963,1)" xml:space="preserve">19 Nov 12:00</text><text transform="translate(516,782) scale(0.963,1)" xml:space="preserve">20 Nov 20:00</text><text transform="translate(580,782) scale(0.963,1)" xml:space="preserve">24 Nov 04:00</text><text transform="translate(644,782) scale(0.963,1)" xml:space="preserve">25 Nov 12:00</text><text transform="translate(708,782) scale(0.963,1)" xml:space="preserve">26 Nov 20:00</text><text transform="translate(772,782) scale(0.963,1)" xml:space="preserve">28 Nov 04:00</text><text transform="translate(836,782) scale(0.924,1)" xml:space="preserve">1 Dec 12:00</text><text transform="translate(900,782) scale(0.924,1)" xml:space="preserve">2 Dec 20:00</text><text transform="translate(964,782) scale(0.924,1)" xml:space="preserve">4 Dec 04:00</text><text transform="translate(1028,782) scale(0.924,1)" xml:space="preserve">5 Dec 12:00</text><text transform="translate(1092,782) scale(0.924,1)" xml:space="preserve">8 Dec 20:00</text><text transform="translate(1156,782) scale(0.924,1)" xml:space="preserve">10 Dec 04:00</text><text transform="translate(1220,782) scale(0.924,1)" xml:space="preserve">11 Dec 12:00</text><text transform="translate(1284,782) scale(0.924,1)" xml:space="preserve">12 Dec 20:00</text><text transform="translate(1348,782) scale(0.924,1)" xml:space="preserve">16 Dec 04:00</text><text transform="translate(1412,782) scale(0.924,1)" xml:space="preserve">17 Dec 12:00</text><text transform="translate(1476,782) scale(0.924,1)" xml:space="preserve">18 Dec 20:00</text></g>
<polygon points="8,11.5 15,11.5 11.5,15" fill="#000" shape-rendering="auto"/><text transform="translate(20,16) scale(0.935,1)" xml:space="preserve">USDJPY,H4  155.528 155.784 155.432 155.755</text><text transform="translate(10,528) scale(0.935,1)" xml:space="preserve">MACD(12,26,9) 0.0777 0.0173 0.0786 0.0000</text>
</svg>
</body></html>
